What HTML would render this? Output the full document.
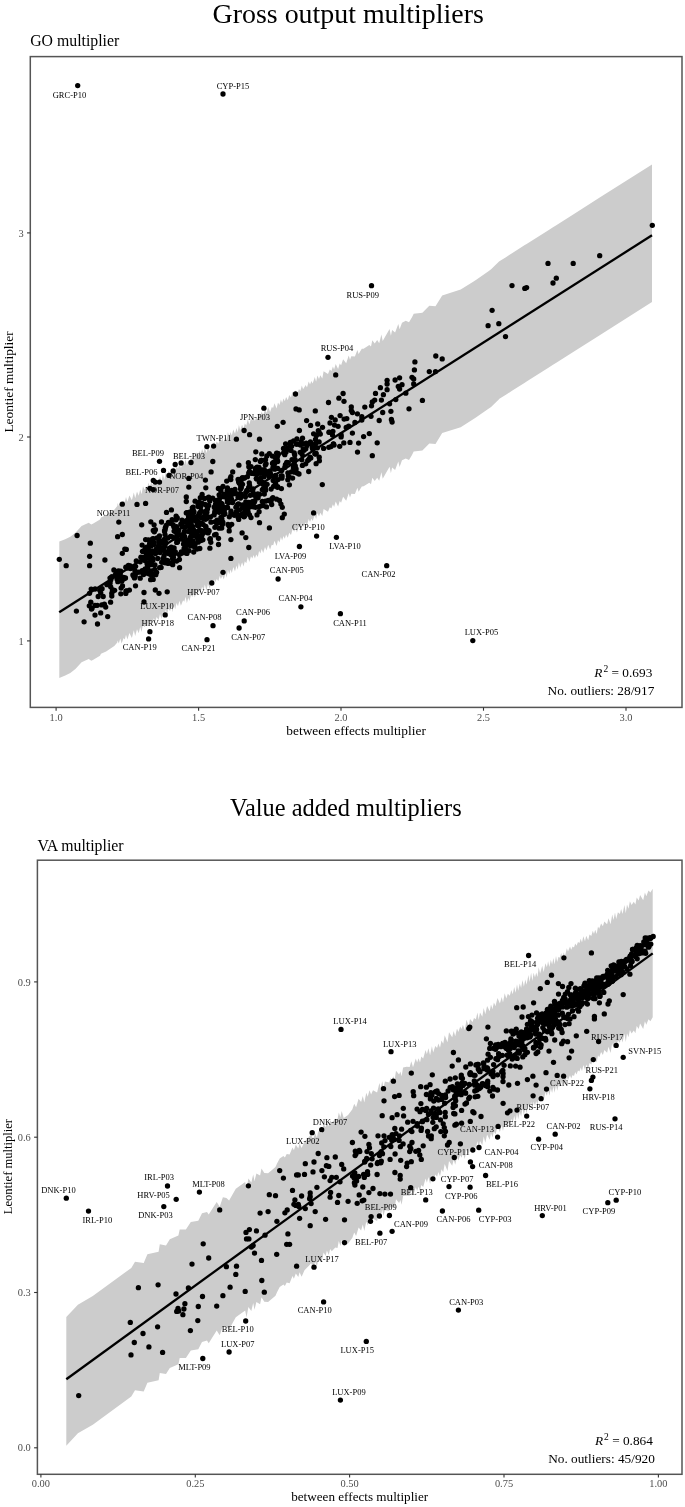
<!DOCTYPE html>
<html><head><meta charset="utf-8"><title>Multipliers</title>
<style>html,body{margin:0;padding:0;background:#fff}svg{display:block}</style></head>
<body>
<svg width="685" height="1507" viewBox="0 0 685 1507">
<rect width="685" height="1507" fill="#fff"/>
<g font-family="'Liberation Serif', 'Times New Roman', serif" fill="#000">
<text x="348.2" y="23.4" font-size="27.9" text-anchor="middle">Gross output multipliers</text>
<text x="30.2" y="46.4" font-size="15.8">GO multiplier</text>
<text x="345.9" y="816" font-size="24.4" text-anchor="middle">Value added multipliers</text>
<text x="37.4" y="850.8" font-size="15.8">VA multiplier</text>
<path d="M59.3,541.6 L65.2,539.3 L70.3,536.8 L75.4,532.7 L81.6,526 L88.7,522.7 L91.3,524.5 L93.3,523.5 L100,519.4 L101,517.4 L106.1,515.3 L114.3,509.7 L117.3,506.1 L117.6,503 L118.8,505.9 L120.3,501 L121.6,505.9 L123.6,500.4 L124.8,502 L126,497.1 L127.4,501.8 L129.4,495.4 L131.9,500.3 L133.8,492.6 L135.2,498.3 L137,491.6 L138.7,495.7 L140.2,489.4 L141.6,494.3 L143,486.2 L144.5,489.7 L146.1,486.7 L147.3,488.3 L148.6,482.4 L149.8,487.4 L151.1,481.9 L152.4,485.3 L153.8,480.6 L155.3,483.8 L156.6,479.3 L158.6,482.3 L160,476.4 L161.5,481.5 L162.9,474.2 L164.3,479.8 L165.8,471.8 L167.2,478.2 L168.4,470.7 L170.1,473.6 L171.3,468.3 L172.6,474.7 L173.8,466.5 L175.2,471.7 L176.5,465.4 L178,468.7 L179.4,463.2 L180.9,468.1 L183.1,462.7 L184.3,464.2 L185.6,459.2 L186.9,465.6 L188.2,460.1 L189.5,463.4 L190.9,457.3 L192.3,459.4 L193.7,455.9 L194.9,459.8 L196.5,452.2 L198,455.5 L199.5,451.1 L200.8,453.7 L202.1,449.1 L203.6,452.9 L204.8,446.9 L206.5,453.2 L207.9,446.2 L209.8,451.1 L211.1,444.8 L212.7,446.2 L214.1,441.9 L215.3,444.4 L216.8,441.5 L218.4,443.7 L219.7,438.3 L220.9,441.3 L222.4,438.5 L223.8,441.8 L225.4,435.7 L226.7,440.2 L227.9,432.1 L229.2,436.7 L230.5,431.9 L231.8,435.5 L233.3,429.5 L235,433.8 L236.4,427.9 L237.7,432.1 L238.9,425 L240.2,430.2 L242.1,424.7 L243.5,428.8 L244.8,423.6 L246.3,425.6 L247.8,419.2 L249.3,424.4 L251,418.6 L252.3,420.8 L253.6,417.4 L254.9,421 L256.2,417 L257.8,419.3 L259.1,413.2 L260.4,415.8 L261.7,411.5 L263.2,415.4 L265,409.3 L266.5,412.9 L268.2,407.1 L270.1,411.9 L271.7,407.2 L273.2,407.7 L274.5,403.2 L276.6,408.5 L278,402.4 L279.5,405 L280.9,399.4 L282.1,402.9 L283.5,398.5 L284.8,401.2 L286.1,396.9 L287.8,400.2 L289.2,395.1 L291,397.4 L292.6,391.4 L294.2,394.2 L295.5,390.2 L296.9,394.8 L299,388.9 L300.4,390.9 L301.8,385.5 L303.1,389.3 L305.7,385 L307,387.4 L308.7,381.4 L310,384.4 L311.4,380.9 L312.7,383.5 L314.8,377.1 L316.1,381.7 L317.4,375.4 L319,378.9 L320.3,375.2 L322.3,378.4 L323.6,371.3 L328,374.1 L329.8,369.6 L331.4,370.9 L332.9,366.6 L334.1,369.4 L335.7,363.9 L338.1,369 L339.7,363.4 L341.1,365.2 L343.1,359.2 L346.2,363.2 L348.7,355.6 L350,359.8 L351.3,356.2 L354.9,356.5 L357.4,350.1 L358.6,354.1 L361.8,348.8 L363.6,348.7 L369.3,345.1 L371,346.6 L372.3,340.2 L374.7,343.5 L377.2,340.1 L379.2,343.2 L381.4,334.6 L382.7,341.1 L386.7,334.1 L389.6,329.1 L390.9,335.7 L392.1,329.9 L395.1,332.4 L398.3,324 L399.6,329.3 L402,322.7 L405.8,320.8 L409,322.3 L412,317.3 L413.7,313.8 L422.4,312.8 L429.3,305.8 L435.5,306.3 L442.2,295.5 L460.7,289.6 L472.8,282 L475.9,280 L488.1,271.4 L491.1,269.3 L498.8,261.8 L499.4,261.2 L505.5,257.4 L512,253.2 L524.8,245.1 L526.6,244 L548,230.4 L553,227.2 L556.3,225.2 L573.2,214.4 L599.7,197.6 L652,164.5 L652,302.1 L599.7,335.2 L573.2,352 L556.3,362.8 L553,364.8 L548,368 L526.6,381.6 L524.8,382.7 L512,390.8 L505.5,395 L499.4,398.8 L498.8,399.4 L491.1,406.9 L488.1,409 L475.9,417.6 L472.8,419.6 L460.7,427.2 L442.2,433.1 L435.5,443.9 L429.3,443.4 L422.4,450.4 L413.7,451.4 L412,454.9 L409,459.9 L405.8,458.4 L402,460.3 L399.6,466.9 L398.3,461.6 L395.1,470 L392.1,467.5 L390.9,473.3 L389.6,466.7 L386.7,471.7 L382.7,478.7 L381.4,472.2 L379.2,480.8 L377.2,477.7 L374.7,481.1 L372.3,477.8 L371,484.2 L369.3,482.7 L363.6,486.3 L361.8,486.4 L358.6,491.7 L357.4,487.7 L354.9,494.1 L351.3,493.8 L350,497.4 L348.7,493.2 L346.2,500.8 L343.1,496.8 L341.1,502.8 L339.7,501 L338.1,506.6 L335.7,501.5 L334.1,507 L332.9,504.2 L331.4,508.5 L329.8,507.2 L328,511.7 L323.6,508.9 L322.3,516 L320.3,512.8 L319,516.5 L317.4,513 L316.1,519.3 L314.8,514.7 L312.7,521.1 L311.4,518.5 L310,522 L308.7,519 L307,525 L305.7,522.6 L303.1,526.9 L301.8,523.1 L300.4,528.5 L299,526.5 L296.9,532.4 L295.5,527.8 L294.2,531.8 L292.6,529 L291,535 L289.2,532.7 L287.8,537.8 L286.1,534.5 L284.8,538.8 L283.5,536.1 L282.1,540.5 L280.9,537 L279.5,542.6 L278,540 L276.6,546.1 L274.5,540.8 L273.2,545.3 L271.7,544.8 L270.1,549.5 L268.2,544.7 L266.5,550.5 L265,546.9 L263.2,553 L261.7,549.1 L260.4,553.4 L259.1,550.8 L257.8,556.9 L256.2,554.6 L254.9,558.6 L253.6,555 L252.3,558.4 L251,556.2 L249.3,562 L247.8,556.8 L246.3,563.2 L244.8,561.2 L243.5,566.4 L242.1,562.3 L240.2,567.8 L238.9,562.6 L237.7,569.7 L236.4,565.5 L235,571.4 L233.3,567.1 L231.8,573.1 L230.5,569.5 L229.2,574.3 L227.9,569.7 L226.7,577.8 L225.4,573.3 L223.8,579.4 L222.4,576.1 L220.9,578.9 L219.7,575.9 L218.4,581.3 L216.8,579.1 L215.3,582 L214.1,579.5 L212.7,583.8 L211.1,582.4 L209.8,588.7 L207.9,583.8 L206.5,590.8 L204.8,584.5 L203.6,590.5 L202.1,586.7 L200.8,591.3 L199.5,588.7 L198,593.1 L196.5,589.8 L194.9,597.4 L193.7,593.5 L192.3,597 L190.9,594.9 L189.5,601 L188.2,597.7 L186.9,603.2 L185.6,596.8 L184.3,601.8 L183.1,600.3 L180.9,605.7 L179.4,600.8 L178,606.3 L176.5,603 L175.2,609.3 L173.8,604.1 L172.6,612.3 L171.3,605.9 L170.1,611.2 L168.4,608.3 L167.2,615.8 L165.8,609.4 L164.3,617.4 L162.9,611.8 L161.5,619.1 L160,614 L158.6,619.9 L156.6,616.9 L155.3,621.4 L153.8,618.2 L152.4,622.9 L151.1,619.5 L149.8,625 L148.6,620 L147.3,625.9 L146.1,624.3 L144.5,627.3 L143,623.8 L141.6,631.9 L140.2,627 L138.7,633.3 L137,629.2 L135.2,635.9 L133.8,630.2 L131.9,637.9 L129.4,633 L127.4,639.4 L126,634.7 L124.8,639.6 L123.6,638 L121.6,643.5 L120.3,638.6 L118.8,643.5 L117.6,640.6 L117.3,642.4 L114.3,646 L106.1,651.6 L101,653.7 L100,655.7 L93.3,659.8 L91.3,660.8 L88.7,659 L81.6,662.3 L75.4,669 L70.3,673.1 L65.2,675.6 L59.3,677.9 Z" fill="#cccccc"/>
<line x1="59.2" y1="612.3" x2="652" y2="235.3" stroke="#000" stroke-width="2.3"/>
<g fill="#000">
<circle cx="95.1" cy="589" r="2.65"/>
<circle cx="99.8" cy="590.3" r="2.65"/>
<circle cx="89.3" cy="605.8" r="2.65"/>
<circle cx="89.5" cy="593.3" r="2.65"/>
<circle cx="97.3" cy="605.3" r="2.65"/>
<circle cx="101.8" cy="604.9" r="2.65"/>
<circle cx="100.7" cy="592.8" r="2.65"/>
<circle cx="106.9" cy="584.7" r="2.65"/>
<circle cx="91.2" cy="589.1" r="2.65"/>
<circle cx="92" cy="608.3" r="2.65"/>
<circle cx="102.1" cy="588.7" r="2.65"/>
<circle cx="111.8" cy="576.8" r="2.65"/>
<circle cx="130.4" cy="568.5" r="2.65"/>
<circle cx="123.6" cy="577.3" r="2.65"/>
<circle cx="133.8" cy="576.6" r="2.65"/>
<circle cx="125.8" cy="593.4" r="2.65"/>
<circle cx="131.9" cy="567.8" r="2.65"/>
<circle cx="122.5" cy="585.9" r="2.65"/>
<circle cx="114.6" cy="590.3" r="2.65"/>
<circle cx="132.9" cy="574.9" r="2.65"/>
<circle cx="136.3" cy="561" r="2.65"/>
<circle cx="127.4" cy="568.1" r="2.65"/>
<circle cx="135.2" cy="576.2" r="2.65"/>
<circle cx="111.8" cy="593.2" r="2.65"/>
<circle cx="129.4" cy="590.1" r="2.65"/>
<circle cx="121.6" cy="580.9" r="2.65"/>
<circle cx="110.7" cy="586.8" r="2.65"/>
<circle cx="111.8" cy="596.1" r="2.65"/>
<circle cx="113.9" cy="570" r="2.65"/>
<circle cx="112.4" cy="589.9" r="2.65"/>
<circle cx="126.5" cy="591" r="2.65"/>
<circle cx="118.4" cy="570.8" r="2.65"/>
<circle cx="120.8" cy="593.8" r="2.65"/>
<circle cx="115.3" cy="574.9" r="2.65"/>
<circle cx="117" cy="579" r="2.65"/>
<circle cx="110.1" cy="582.9" r="2.65"/>
<circle cx="121.1" cy="588.1" r="2.65"/>
<circle cx="125.5" cy="578" r="2.65"/>
<circle cx="130.3" cy="566" r="2.65"/>
<circle cx="136.2" cy="573" r="2.65"/>
<circle cx="121.8" cy="581.1" r="2.65"/>
<circle cx="111.9" cy="576.9" r="2.65"/>
<circle cx="116.3" cy="572" r="2.65"/>
<circle cx="110" cy="578.1" r="2.65"/>
<circle cx="113" cy="590.1" r="2.65"/>
<circle cx="128.4" cy="565.3" r="2.65"/>
<circle cx="117.6" cy="575.9" r="2.65"/>
<circle cx="135.5" cy="585.8" r="2.65"/>
<circle cx="124" cy="578.8" r="2.65"/>
<circle cx="120.3" cy="574.1" r="2.65"/>
<circle cx="134.9" cy="570.5" r="2.65"/>
<circle cx="125.8" cy="567.2" r="2.65"/>
<circle cx="126.3" cy="549.4" r="2.65"/>
<circle cx="135.9" cy="572.6" r="2.65"/>
<circle cx="117.8" cy="581.7" r="2.65"/>
<circle cx="126" cy="591.2" r="2.65"/>
<circle cx="119.9" cy="577" r="2.65"/>
<circle cx="135.6" cy="566.3" r="2.65"/>
<circle cx="134.5" cy="577.9" r="2.65"/>
<circle cx="120.7" cy="571.1" r="2.65"/>
<circle cx="110.8" cy="579.7" r="2.65"/>
<circle cx="138.7" cy="572.2" r="2.65"/>
<circle cx="186.9" cy="553.4" r="2.65"/>
<circle cx="151" cy="546.2" r="2.65"/>
<circle cx="149.8" cy="540.6" r="2.65"/>
<circle cx="182" cy="526.9" r="2.65"/>
<circle cx="172.6" cy="558.7" r="2.65"/>
<circle cx="185.5" cy="545.9" r="2.65"/>
<circle cx="177.5" cy="540.5" r="2.65"/>
<circle cx="156.6" cy="572.3" r="2.65"/>
<circle cx="188.6" cy="516.6" r="2.65"/>
<circle cx="176.2" cy="532.6" r="2.65"/>
<circle cx="146.4" cy="554.7" r="2.65"/>
<circle cx="147.3" cy="568.3" r="2.65"/>
<circle cx="189" cy="531.7" r="2.65"/>
<circle cx="146.5" cy="547.2" r="2.65"/>
<circle cx="188.5" cy="524.8" r="2.65"/>
<circle cx="161.7" cy="562.3" r="2.65"/>
<circle cx="181.3" cy="524" r="2.65"/>
<circle cx="152" cy="564.1" r="2.65"/>
<circle cx="153" cy="560" r="2.65"/>
<circle cx="157.7" cy="558.5" r="2.65"/>
<circle cx="169.2" cy="550.7" r="2.65"/>
<circle cx="165.1" cy="553.3" r="2.65"/>
<circle cx="166.2" cy="525.5" r="2.65"/>
<circle cx="140.2" cy="578.2" r="2.65"/>
<circle cx="148.6" cy="557.7" r="2.65"/>
<circle cx="156.3" cy="548.9" r="2.65"/>
<circle cx="167.8" cy="560.6" r="2.65"/>
<circle cx="152.4" cy="551.9" r="2.65"/>
<circle cx="178.6" cy="530.3" r="2.65"/>
<circle cx="185.6" cy="526.7" r="2.65"/>
<circle cx="170.6" cy="536.4" r="2.65"/>
<circle cx="162.6" cy="549.9" r="2.65"/>
<circle cx="163.9" cy="562.1" r="2.65"/>
<circle cx="187.1" cy="512.7" r="2.65"/>
<circle cx="168" cy="563.3" r="2.65"/>
<circle cx="146.1" cy="557.2" r="2.65"/>
<circle cx="143.6" cy="559.4" r="2.65"/>
<circle cx="179.2" cy="554.6" r="2.65"/>
<circle cx="147.7" cy="567.1" r="2.65"/>
<circle cx="184.1" cy="548.5" r="2.65"/>
<circle cx="151" cy="570.9" r="2.65"/>
<circle cx="189.5" cy="544.5" r="2.65"/>
<circle cx="148.1" cy="553.3" r="2.65"/>
<circle cx="149.8" cy="551.4" r="2.65"/>
<circle cx="176.1" cy="516.1" r="2.65"/>
<circle cx="140.9" cy="557.2" r="2.65"/>
<circle cx="171.2" cy="555.1" r="2.65"/>
<circle cx="179.4" cy="559.5" r="2.65"/>
<circle cx="145.2" cy="560.7" r="2.65"/>
<circle cx="153.5" cy="543.8" r="2.65"/>
<circle cx="161.1" cy="567.4" r="2.65"/>
<circle cx="147.5" cy="573.2" r="2.65"/>
<circle cx="168.5" cy="553.6" r="2.65"/>
<circle cx="174.4" cy="538.2" r="2.65"/>
<circle cx="143.6" cy="574.5" r="2.65"/>
<circle cx="144.2" cy="570.3" r="2.65"/>
<circle cx="143.3" cy="573.3" r="2.65"/>
<circle cx="167.7" cy="562.8" r="2.65"/>
<circle cx="153.4" cy="538.7" r="2.65"/>
<circle cx="145.5" cy="548.5" r="2.65"/>
<circle cx="142.5" cy="551.3" r="2.65"/>
<circle cx="178" cy="533.1" r="2.65"/>
<circle cx="165" cy="534.6" r="2.65"/>
<circle cx="152.5" cy="539" r="2.65"/>
<circle cx="176.7" cy="542.4" r="2.65"/>
<circle cx="186.7" cy="520.6" r="2.65"/>
<circle cx="180.9" cy="524.1" r="2.65"/>
<circle cx="159.7" cy="552" r="2.65"/>
<circle cx="174.4" cy="553.9" r="2.65"/>
<circle cx="175.3" cy="551.8" r="2.65"/>
<circle cx="160.2" cy="547.5" r="2.65"/>
<circle cx="143.5" cy="573.3" r="2.65"/>
<circle cx="152.8" cy="551.2" r="2.65"/>
<circle cx="183.5" cy="544.1" r="2.65"/>
<circle cx="154.1" cy="544.4" r="2.65"/>
<circle cx="147.9" cy="562.9" r="2.65"/>
<circle cx="153.2" cy="579.4" r="2.65"/>
<circle cx="152.2" cy="573.6" r="2.65"/>
<circle cx="155.5" cy="553.5" r="2.65"/>
<circle cx="163.7" cy="548.5" r="2.65"/>
<circle cx="150" cy="562.2" r="2.65"/>
<circle cx="144.5" cy="558.9" r="2.65"/>
<circle cx="142.1" cy="545.1" r="2.65"/>
<circle cx="169.3" cy="548.3" r="2.65"/>
<circle cx="177.5" cy="541.9" r="2.65"/>
<circle cx="159.5" cy="535.9" r="2.65"/>
<circle cx="189.2" cy="514.6" r="2.65"/>
<circle cx="142.2" cy="570.7" r="2.65"/>
<circle cx="184.6" cy="536.5" r="2.65"/>
<circle cx="147" cy="553.5" r="2.65"/>
<circle cx="165.2" cy="562.8" r="2.65"/>
<circle cx="169.2" cy="551.2" r="2.65"/>
<circle cx="174.1" cy="547.9" r="2.65"/>
<circle cx="146.7" cy="556.8" r="2.65"/>
<circle cx="145.2" cy="568.9" r="2.65"/>
<circle cx="171.3" cy="547.2" r="2.65"/>
<circle cx="164.5" cy="531.1" r="2.65"/>
<circle cx="165.1" cy="541.5" r="2.65"/>
<circle cx="173" cy="524.6" r="2.65"/>
<circle cx="143.7" cy="550.8" r="2.65"/>
<circle cx="176.5" cy="526.7" r="2.65"/>
<circle cx="164.7" cy="530.9" r="2.65"/>
<circle cx="164" cy="555.8" r="2.65"/>
<circle cx="172.1" cy="519.7" r="2.65"/>
<circle cx="147.4" cy="551" r="2.65"/>
<circle cx="168.4" cy="522.5" r="2.65"/>
<circle cx="143" cy="551.6" r="2.65"/>
<circle cx="173.8" cy="526.7" r="2.65"/>
<circle cx="165.8" cy="543.2" r="2.65"/>
<circle cx="184.7" cy="521.5" r="2.65"/>
<circle cx="188.9" cy="550.7" r="2.65"/>
<circle cx="181" cy="553.5" r="2.65"/>
<circle cx="162.5" cy="543.2" r="2.65"/>
<circle cx="150.5" cy="571.8" r="2.65"/>
<circle cx="147.1" cy="563.9" r="2.65"/>
<circle cx="181" cy="534.8" r="2.65"/>
<circle cx="184.3" cy="541.5" r="2.65"/>
<circle cx="164.3" cy="539.4" r="2.65"/>
<circle cx="140.2" cy="561.8" r="2.65"/>
<circle cx="147" cy="556" r="2.65"/>
<circle cx="155.8" cy="574.7" r="2.65"/>
<circle cx="182" cy="520.1" r="2.65"/>
<circle cx="186.3" cy="542.3" r="2.65"/>
<circle cx="158.6" cy="546" r="2.65"/>
<circle cx="189.9" cy="528.7" r="2.65"/>
<circle cx="153.8" cy="542.3" r="2.65"/>
<circle cx="145.1" cy="572.5" r="2.65"/>
<circle cx="152.5" cy="558.1" r="2.65"/>
<circle cx="165.5" cy="527.3" r="2.65"/>
<circle cx="184.2" cy="552.7" r="2.65"/>
<circle cx="171.5" cy="563.4" r="2.65"/>
<circle cx="176" cy="519.8" r="2.65"/>
<circle cx="176.6" cy="536.8" r="2.65"/>
<circle cx="154.3" cy="531.8" r="2.65"/>
<circle cx="186.3" cy="512.9" r="2.65"/>
<circle cx="154.9" cy="564.8" r="2.65"/>
<circle cx="188.8" cy="518" r="2.65"/>
<circle cx="167.9" cy="538" r="2.65"/>
<circle cx="148.4" cy="549.5" r="2.65"/>
<circle cx="164.9" cy="546.3" r="2.65"/>
<circle cx="185.3" cy="548.4" r="2.65"/>
<circle cx="149.6" cy="544" r="2.65"/>
<circle cx="157.1" cy="538" r="2.65"/>
<circle cx="168.5" cy="562.9" r="2.65"/>
<circle cx="177.5" cy="529.9" r="2.65"/>
<circle cx="158.8" cy="548.7" r="2.65"/>
<circle cx="143.1" cy="557.5" r="2.65"/>
<circle cx="165.2" cy="551.7" r="2.65"/>
<circle cx="183.1" cy="522.3" r="2.65"/>
<circle cx="160" cy="552.5" r="2.65"/>
<circle cx="187.7" cy="544" r="2.65"/>
<circle cx="141.6" cy="572" r="2.65"/>
<circle cx="184.8" cy="531.2" r="2.65"/>
<circle cx="159.6" cy="567.7" r="2.65"/>
<circle cx="181.3" cy="551.9" r="2.65"/>
<circle cx="145.5" cy="548.2" r="2.65"/>
<circle cx="166.1" cy="560.2" r="2.65"/>
<circle cx="172.4" cy="549.3" r="2.65"/>
<circle cx="162.9" cy="558.6" r="2.65"/>
<circle cx="151.6" cy="575.2" r="2.65"/>
<circle cx="172.3" cy="536.8" r="2.65"/>
<circle cx="171.8" cy="552.2" r="2.65"/>
<circle cx="145.6" cy="539.6" r="2.65"/>
<circle cx="159.4" cy="540.2" r="2.65"/>
<circle cx="170.1" cy="523.3" r="2.65"/>
<circle cx="187.9" cy="540.2" r="2.65"/>
<circle cx="184.2" cy="532.2" r="2.65"/>
<circle cx="188" cy="541" r="2.65"/>
<circle cx="155.4" cy="529.7" r="2.65"/>
<circle cx="161" cy="541.3" r="2.65"/>
<circle cx="173.4" cy="557.3" r="2.65"/>
<circle cx="156.9" cy="551.6" r="2.65"/>
<circle cx="174.1" cy="531.1" r="2.65"/>
<circle cx="165.2" cy="528.9" r="2.65"/>
<circle cx="188.5" cy="523.7" r="2.65"/>
<circle cx="151.1" cy="564.7" r="2.65"/>
<circle cx="154.7" cy="569.3" r="2.65"/>
<circle cx="151.2" cy="554.6" r="2.65"/>
<circle cx="173.3" cy="560.9" r="2.65"/>
<circle cx="150.6" cy="579.7" r="2.65"/>
<circle cx="147.1" cy="547.8" r="2.65"/>
<circle cx="184.9" cy="548.5" r="2.65"/>
<circle cx="176.6" cy="561.1" r="2.65"/>
<circle cx="149.3" cy="574" r="2.65"/>
<circle cx="177.3" cy="518" r="2.65"/>
<circle cx="158.7" cy="542" r="2.65"/>
<circle cx="148.5" cy="540" r="2.65"/>
<circle cx="187.8" cy="519.9" r="2.65"/>
<circle cx="188.2" cy="513.4" r="2.65"/>
<circle cx="181.1" cy="539.1" r="2.65"/>
<circle cx="193.9" cy="516.3" r="2.65"/>
<circle cx="205.4" cy="519.3" r="2.65"/>
<circle cx="261.8" cy="453.9" r="2.65"/>
<circle cx="251.3" cy="473.3" r="2.65"/>
<circle cx="192.8" cy="509.5" r="2.65"/>
<circle cx="249.8" cy="507" r="2.65"/>
<circle cx="217.1" cy="506.6" r="2.65"/>
<circle cx="211" cy="522.2" r="2.65"/>
<circle cx="215.3" cy="509.5" r="2.65"/>
<circle cx="263.3" cy="488.7" r="2.65"/>
<circle cx="265.5" cy="459.7" r="2.65"/>
<circle cx="266.5" cy="506.9" r="2.65"/>
<circle cx="220.9" cy="491.3" r="2.65"/>
<circle cx="264.2" cy="469.6" r="2.65"/>
<circle cx="254.2" cy="502.6" r="2.65"/>
<circle cx="238.6" cy="481.7" r="2.65"/>
<circle cx="215.6" cy="505.4" r="2.65"/>
<circle cx="205.8" cy="526.9" r="2.65"/>
<circle cx="209.8" cy="501" r="2.65"/>
<circle cx="216.1" cy="534.4" r="2.65"/>
<circle cx="260.7" cy="506.1" r="2.65"/>
<circle cx="197.7" cy="524.5" r="2.65"/>
<circle cx="246.8" cy="490.4" r="2.65"/>
<circle cx="239.6" cy="509.9" r="2.65"/>
<circle cx="249.8" cy="505.1" r="2.65"/>
<circle cx="257.3" cy="474.3" r="2.65"/>
<circle cx="235.4" cy="493.2" r="2.65"/>
<circle cx="209.8" cy="499.8" r="2.65"/>
<circle cx="202.3" cy="533.1" r="2.65"/>
<circle cx="221.7" cy="528.1" r="2.65"/>
<circle cx="230.6" cy="492.4" r="2.65"/>
<circle cx="269.3" cy="453.6" r="2.65"/>
<circle cx="228" cy="524.4" r="2.65"/>
<circle cx="193.2" cy="507.1" r="2.65"/>
<circle cx="199.5" cy="513.3" r="2.65"/>
<circle cx="264.4" cy="474.6" r="2.65"/>
<circle cx="259.3" cy="481.9" r="2.65"/>
<circle cx="265.7" cy="471.4" r="2.65"/>
<circle cx="237.7" cy="504.3" r="2.65"/>
<circle cx="201.3" cy="511" r="2.65"/>
<circle cx="210.4" cy="517.1" r="2.65"/>
<circle cx="190.9" cy="517" r="2.65"/>
<circle cx="244.3" cy="478.1" r="2.65"/>
<circle cx="253.6" cy="493.5" r="2.65"/>
<circle cx="195.1" cy="501.2" r="2.65"/>
<circle cx="241.1" cy="480.8" r="2.65"/>
<circle cx="203.1" cy="524.4" r="2.65"/>
<circle cx="214.6" cy="534.9" r="2.65"/>
<circle cx="215" cy="511.5" r="2.65"/>
<circle cx="259.1" cy="511.7" r="2.65"/>
<circle cx="219.1" cy="494.8" r="2.65"/>
<circle cx="190.5" cy="543.1" r="2.65"/>
<circle cx="223.9" cy="512.4" r="2.65"/>
<circle cx="226.9" cy="494.7" r="2.65"/>
<circle cx="191.2" cy="522.9" r="2.65"/>
<circle cx="197.1" cy="520.1" r="2.65"/>
<circle cx="219.7" cy="511.5" r="2.65"/>
<circle cx="231.7" cy="524.3" r="2.65"/>
<circle cx="198.7" cy="525.7" r="2.65"/>
<circle cx="205.8" cy="487.8" r="2.65"/>
<circle cx="265.4" cy="501.2" r="2.65"/>
<circle cx="264.1" cy="476.8" r="2.65"/>
<circle cx="262.3" cy="489.8" r="2.65"/>
<circle cx="252.9" cy="473.2" r="2.65"/>
<circle cx="222.4" cy="524.6" r="2.65"/>
<circle cx="207.5" cy="508.8" r="2.65"/>
<circle cx="231.4" cy="499" r="2.65"/>
<circle cx="248" cy="512.5" r="2.65"/>
<circle cx="193.3" cy="528.8" r="2.65"/>
<circle cx="257.1" cy="467.1" r="2.65"/>
<circle cx="238" cy="497" r="2.65"/>
<circle cx="223.6" cy="507.2" r="2.65"/>
<circle cx="224.1" cy="508.4" r="2.65"/>
<circle cx="191.9" cy="534.2" r="2.65"/>
<circle cx="229.2" cy="491.6" r="2.65"/>
<circle cx="226.7" cy="481.1" r="2.65"/>
<circle cx="227.9" cy="489.4" r="2.65"/>
<circle cx="197.3" cy="523.9" r="2.65"/>
<circle cx="230.8" cy="479.6" r="2.65"/>
<circle cx="248.7" cy="502.4" r="2.65"/>
<circle cx="230.9" cy="476.6" r="2.65"/>
<circle cx="266.1" cy="463.8" r="2.65"/>
<circle cx="258.6" cy="507" r="2.65"/>
<circle cx="205.5" cy="530.4" r="2.65"/>
<circle cx="229.3" cy="526.5" r="2.65"/>
<circle cx="253.1" cy="506.8" r="2.65"/>
<circle cx="195.2" cy="517.6" r="2.65"/>
<circle cx="261.7" cy="470" r="2.65"/>
<circle cx="255.3" cy="459.6" r="2.65"/>
<circle cx="206.7" cy="505.6" r="2.65"/>
<circle cx="230.5" cy="497" r="2.65"/>
<circle cx="202.9" cy="539.8" r="2.65"/>
<circle cx="244.4" cy="516.3" r="2.65"/>
<circle cx="199.2" cy="530.4" r="2.65"/>
<circle cx="240.9" cy="493.9" r="2.65"/>
<circle cx="236.4" cy="511.7" r="2.65"/>
<circle cx="198.4" cy="541.2" r="2.65"/>
<circle cx="253.8" cy="473.6" r="2.65"/>
<circle cx="269.2" cy="476.8" r="2.65"/>
<circle cx="225.4" cy="497" r="2.65"/>
<circle cx="249.5" cy="471.5" r="2.65"/>
<circle cx="241.1" cy="514.6" r="2.65"/>
<circle cx="236.9" cy="505.8" r="2.65"/>
<circle cx="192.7" cy="510.5" r="2.65"/>
<circle cx="239.3" cy="483.2" r="2.65"/>
<circle cx="200.6" cy="507" r="2.65"/>
<circle cx="242.2" cy="477.8" r="2.65"/>
<circle cx="198.5" cy="515.4" r="2.65"/>
<circle cx="207.9" cy="516.9" r="2.65"/>
<circle cx="239.9" cy="493.6" r="2.65"/>
<circle cx="200.8" cy="540.5" r="2.65"/>
<circle cx="197.7" cy="531.7" r="2.65"/>
<circle cx="259.7" cy="494.3" r="2.65"/>
<circle cx="190.9" cy="536.6" r="2.65"/>
<circle cx="235" cy="489.3" r="2.65"/>
<circle cx="265" cy="487.7" r="2.65"/>
<circle cx="209.9" cy="539.2" r="2.65"/>
<circle cx="222.5" cy="496.7" r="2.65"/>
<circle cx="194.7" cy="543.9" r="2.65"/>
<circle cx="265.3" cy="465.1" r="2.65"/>
<circle cx="206" cy="514.9" r="2.65"/>
<circle cx="255.1" cy="472" r="2.65"/>
<circle cx="214.8" cy="512.6" r="2.65"/>
<circle cx="252.6" cy="501.8" r="2.65"/>
<circle cx="190.5" cy="543.6" r="2.65"/>
<circle cx="249.3" cy="483" r="2.65"/>
<circle cx="208.1" cy="497.8" r="2.65"/>
<circle cx="216.8" cy="523.4" r="2.65"/>
<circle cx="245.6" cy="508" r="2.65"/>
<circle cx="234.3" cy="493.2" r="2.65"/>
<circle cx="253.1" cy="488.9" r="2.65"/>
<circle cx="267.2" cy="474" r="2.65"/>
<circle cx="260.4" cy="461.5" r="2.65"/>
<circle cx="249.5" cy="514.8" r="2.65"/>
<circle cx="249.7" cy="485.9" r="2.65"/>
<circle cx="209.1" cy="530.9" r="2.65"/>
<circle cx="240.5" cy="498" r="2.65"/>
<circle cx="227.6" cy="507.7" r="2.65"/>
<circle cx="245.8" cy="502" r="2.65"/>
<circle cx="235.6" cy="493.4" r="2.65"/>
<circle cx="207" cy="531.9" r="2.65"/>
<circle cx="201.6" cy="503.2" r="2.65"/>
<circle cx="198.5" cy="540" r="2.65"/>
<circle cx="192.3" cy="507.8" r="2.65"/>
<circle cx="245.4" cy="496.7" r="2.65"/>
<circle cx="195.3" cy="520.8" r="2.65"/>
<circle cx="219.1" cy="528.2" r="2.65"/>
<circle cx="195.3" cy="531.7" r="2.65"/>
<circle cx="263.2" cy="505.5" r="2.65"/>
<circle cx="199" cy="502.2" r="2.65"/>
<circle cx="257.8" cy="493.8" r="2.65"/>
<circle cx="240.5" cy="479.4" r="2.65"/>
<circle cx="198" cy="503.9" r="2.65"/>
<circle cx="215.5" cy="504.4" r="2.65"/>
<circle cx="191.7" cy="514.3" r="2.65"/>
<circle cx="219.4" cy="508.5" r="2.65"/>
<circle cx="267.1" cy="484.3" r="2.65"/>
<circle cx="192.5" cy="516.9" r="2.65"/>
<circle cx="224.9" cy="513.7" r="2.65"/>
<circle cx="233" cy="494.1" r="2.65"/>
<circle cx="259" cy="467.4" r="2.65"/>
<circle cx="190.1" cy="511.8" r="2.65"/>
<circle cx="251" cy="517.6" r="2.65"/>
<circle cx="229.3" cy="516.8" r="2.65"/>
<circle cx="204.8" cy="512.2" r="2.65"/>
<circle cx="210.8" cy="542.3" r="2.65"/>
<circle cx="212.7" cy="498.1" r="2.65"/>
<circle cx="198.8" cy="522.4" r="2.65"/>
<circle cx="196.5" cy="533.8" r="2.65"/>
<circle cx="240.2" cy="481.4" r="2.65"/>
<circle cx="222.1" cy="504.1" r="2.65"/>
<circle cx="261.1" cy="460.5" r="2.65"/>
<circle cx="206.5" cy="510.7" r="2.65"/>
<circle cx="220.3" cy="522.6" r="2.65"/>
<circle cx="208.7" cy="505.5" r="2.65"/>
<circle cx="250.2" cy="495.3" r="2.65"/>
<circle cx="217.9" cy="507.3" r="2.65"/>
<circle cx="243" cy="513.8" r="2.65"/>
<circle cx="203.6" cy="516.7" r="2.65"/>
<circle cx="200.1" cy="512.4" r="2.65"/>
<circle cx="260.8" cy="473.3" r="2.65"/>
<circle cx="246.3" cy="512.4" r="2.65"/>
<circle cx="202.4" cy="503.6" r="2.65"/>
<circle cx="231.8" cy="490.3" r="2.65"/>
<circle cx="216.2" cy="504.6" r="2.65"/>
<circle cx="198.1" cy="542.2" r="2.65"/>
<circle cx="198.1" cy="525.7" r="2.65"/>
<circle cx="248.7" cy="487.3" r="2.65"/>
<circle cx="205.7" cy="526.3" r="2.65"/>
<circle cx="221.1" cy="488.6" r="2.65"/>
<circle cx="221.9" cy="518.8" r="2.65"/>
<circle cx="240.6" cy="488.9" r="2.65"/>
<circle cx="201.3" cy="517.9" r="2.65"/>
<circle cx="262.6" cy="484.1" r="2.65"/>
<circle cx="235.9" cy="507.2" r="2.65"/>
<circle cx="247.8" cy="510.9" r="2.65"/>
<circle cx="251.9" cy="502.9" r="2.65"/>
<circle cx="241.3" cy="487.5" r="2.65"/>
<circle cx="215" cy="521.8" r="2.65"/>
<circle cx="252.6" cy="501.6" r="2.65"/>
<circle cx="240.4" cy="479.8" r="2.65"/>
<circle cx="239.7" cy="495" r="2.65"/>
<circle cx="244" cy="516.8" r="2.65"/>
<circle cx="252.3" cy="490.5" r="2.65"/>
<circle cx="229.2" cy="530.9" r="2.65"/>
<circle cx="202.9" cy="533.5" r="2.65"/>
<circle cx="265.2" cy="487.3" r="2.65"/>
<circle cx="233.3" cy="514.4" r="2.65"/>
<circle cx="231" cy="511.2" r="2.65"/>
<circle cx="222.8" cy="522.2" r="2.65"/>
<circle cx="206.8" cy="518.5" r="2.65"/>
<circle cx="199.8" cy="548.5" r="2.65"/>
<circle cx="218.4" cy="488.4" r="2.65"/>
<circle cx="191.1" cy="528.8" r="2.65"/>
<circle cx="223.6" cy="513.2" r="2.65"/>
<circle cx="208" cy="530.2" r="2.65"/>
<circle cx="265.2" cy="484.1" r="2.65"/>
<circle cx="221.4" cy="503.4" r="2.65"/>
<circle cx="200.3" cy="535.9" r="2.65"/>
<circle cx="227.5" cy="500.3" r="2.65"/>
<circle cx="208.1" cy="532.9" r="2.65"/>
<circle cx="255.5" cy="507.3" r="2.65"/>
<circle cx="227.4" cy="492.2" r="2.65"/>
<circle cx="256.7" cy="478.9" r="2.65"/>
<circle cx="258.1" cy="472.1" r="2.65"/>
<circle cx="224.1" cy="494.4" r="2.65"/>
<circle cx="190.2" cy="537.7" r="2.65"/>
<circle cx="214.1" cy="514.9" r="2.65"/>
<circle cx="224.3" cy="509.8" r="2.65"/>
<circle cx="264.3" cy="494" r="2.65"/>
<circle cx="194.6" cy="547.2" r="2.65"/>
<circle cx="201.2" cy="530.4" r="2.65"/>
<circle cx="240.7" cy="486" r="2.65"/>
<circle cx="242.5" cy="484.3" r="2.65"/>
<circle cx="198.1" cy="506.6" r="2.65"/>
<circle cx="217.7" cy="502.6" r="2.65"/>
<circle cx="262.3" cy="501.5" r="2.65"/>
<circle cx="238.7" cy="519.4" r="2.65"/>
<circle cx="243.5" cy="514.7" r="2.65"/>
<circle cx="205.8" cy="516.8" r="2.65"/>
<circle cx="232.5" cy="502.6" r="2.65"/>
<circle cx="234.4" cy="492.9" r="2.65"/>
<circle cx="208.7" cy="497.1" r="2.65"/>
<circle cx="227.4" cy="487.8" r="2.65"/>
<circle cx="229.3" cy="493.2" r="2.65"/>
<circle cx="190.5" cy="541.2" r="2.65"/>
<circle cx="227.4" cy="502.1" r="2.65"/>
<circle cx="220" cy="496.6" r="2.65"/>
<circle cx="266.8" cy="456" r="2.65"/>
<circle cx="192.3" cy="526.3" r="2.65"/>
<circle cx="244.6" cy="506.7" r="2.65"/>
<circle cx="230.9" cy="513.7" r="2.65"/>
<circle cx="261.8" cy="460.4" r="2.65"/>
<circle cx="217.1" cy="520.1" r="2.65"/>
<circle cx="219.3" cy="499.4" r="2.65"/>
<circle cx="206.9" cy="512.2" r="2.65"/>
<circle cx="223.8" cy="510.7" r="2.65"/>
<circle cx="256.2" cy="478.5" r="2.65"/>
<circle cx="230.3" cy="478.3" r="2.65"/>
<circle cx="242.4" cy="507.9" r="2.65"/>
<circle cx="216.5" cy="500.3" r="2.65"/>
<circle cx="240.8" cy="515.4" r="2.65"/>
<circle cx="193.2" cy="540.9" r="2.65"/>
<circle cx="194" cy="512" r="2.65"/>
<circle cx="190.5" cy="519.8" r="2.65"/>
<circle cx="242.6" cy="504.9" r="2.65"/>
<circle cx="262.8" cy="482.5" r="2.65"/>
<circle cx="245.7" cy="492.7" r="2.65"/>
<circle cx="244.5" cy="477.8" r="2.65"/>
<circle cx="251" cy="466.6" r="2.65"/>
<circle cx="204.5" cy="498.4" r="2.65"/>
<circle cx="242.5" cy="478" r="2.65"/>
<circle cx="255.8" cy="496.5" r="2.65"/>
<circle cx="214.2" cy="507.1" r="2.65"/>
<circle cx="215.5" cy="500.8" r="2.65"/>
<circle cx="194.4" cy="519.1" r="2.65"/>
<circle cx="193.2" cy="510.9" r="2.65"/>
<circle cx="263.5" cy="473.6" r="2.65"/>
<circle cx="191.1" cy="512.4" r="2.65"/>
<circle cx="268.5" cy="471.6" r="2.65"/>
<circle cx="223" cy="486.4" r="2.65"/>
<circle cx="202.1" cy="494.4" r="2.65"/>
<circle cx="190.4" cy="545.9" r="2.65"/>
<circle cx="197.1" cy="549" r="2.65"/>
<circle cx="200.3" cy="497.7" r="2.65"/>
<circle cx="248.7" cy="473.1" r="2.65"/>
<circle cx="194" cy="535.7" r="2.65"/>
<circle cx="248.4" cy="462.7" r="2.65"/>
<circle cx="240.3" cy="494.7" r="2.65"/>
<circle cx="210.3" cy="538.7" r="2.65"/>
<circle cx="247.4" cy="476.7" r="2.65"/>
<circle cx="255.4" cy="468.4" r="2.65"/>
<circle cx="214.9" cy="527.3" r="2.65"/>
<circle cx="228.9" cy="491.5" r="2.65"/>
<circle cx="219.4" cy="505.4" r="2.65"/>
<circle cx="201.6" cy="536.3" r="2.65"/>
<circle cx="219.1" cy="512.3" r="2.65"/>
<circle cx="220.9" cy="517.5" r="2.65"/>
<circle cx="265.6" cy="490.2" r="2.65"/>
<circle cx="194.9" cy="544.8" r="2.65"/>
<circle cx="246.3" cy="504.3" r="2.65"/>
<circle cx="268.2" cy="500.5" r="2.65"/>
<circle cx="238.1" cy="479.4" r="2.65"/>
<circle cx="220.1" cy="521.6" r="2.65"/>
<circle cx="238.1" cy="517.2" r="2.65"/>
<circle cx="190.1" cy="513.5" r="2.65"/>
<circle cx="223.8" cy="514.5" r="2.65"/>
<circle cx="193.4" cy="531.5" r="2.65"/>
<circle cx="254.9" cy="500.7" r="2.65"/>
<circle cx="258.1" cy="497.8" r="2.65"/>
<circle cx="244.8" cy="511.4" r="2.65"/>
<circle cx="234.3" cy="515.3" r="2.65"/>
<circle cx="206" cy="531.9" r="2.65"/>
<circle cx="238.6" cy="504" r="2.65"/>
<circle cx="227.2" cy="490.5" r="2.65"/>
<circle cx="253.3" cy="494.8" r="2.65"/>
<circle cx="197" cy="537.6" r="2.65"/>
<circle cx="236.4" cy="513.3" r="2.65"/>
<circle cx="260.8" cy="478.2" r="2.65"/>
<circle cx="205.1" cy="504.5" r="2.65"/>
<circle cx="275.4" cy="475.6" r="2.65"/>
<circle cx="282.1" cy="476" r="2.65"/>
<circle cx="274.5" cy="464.1" r="2.65"/>
<circle cx="273.2" cy="480.6" r="2.65"/>
<circle cx="293.6" cy="440.9" r="2.65"/>
<circle cx="285.6" cy="443.8" r="2.65"/>
<circle cx="271" cy="501.4" r="2.65"/>
<circle cx="287" cy="449.5" r="2.65"/>
<circle cx="293.4" cy="467.9" r="2.65"/>
<circle cx="294.6" cy="472.2" r="2.65"/>
<circle cx="277.6" cy="455.9" r="2.65"/>
<circle cx="272.5" cy="463.4" r="2.65"/>
<circle cx="286.7" cy="462.5" r="2.65"/>
<circle cx="297.3" cy="444.2" r="2.65"/>
<circle cx="287.9" cy="472.8" r="2.65"/>
<circle cx="277.7" cy="486.6" r="2.65"/>
<circle cx="289.2" cy="476.8" r="2.65"/>
<circle cx="283.5" cy="448.4" r="2.65"/>
<circle cx="299" cy="474" r="2.65"/>
<circle cx="277.7" cy="468.4" r="2.65"/>
<circle cx="297.1" cy="473" r="2.65"/>
<circle cx="293.6" cy="465.4" r="2.65"/>
<circle cx="289.4" cy="484.8" r="2.65"/>
<circle cx="292.6" cy="478.1" r="2.65"/>
<circle cx="290.3" cy="444.4" r="2.65"/>
<circle cx="273.2" cy="462.6" r="2.65"/>
<circle cx="277.7" cy="453.5" r="2.65"/>
<circle cx="277.2" cy="459.4" r="2.65"/>
<circle cx="290.3" cy="442.4" r="2.65"/>
<circle cx="271.1" cy="489.1" r="2.65"/>
<circle cx="276.6" cy="499.2" r="2.65"/>
<circle cx="274.2" cy="462" r="2.65"/>
<circle cx="272.9" cy="497.6" r="2.65"/>
<circle cx="283.6" cy="453" r="2.65"/>
<circle cx="294.7" cy="454.9" r="2.65"/>
<circle cx="276.6" cy="453.2" r="2.65"/>
<circle cx="291.4" cy="471.8" r="2.65"/>
<circle cx="278" cy="479.6" r="2.65"/>
<circle cx="274.7" cy="469.2" r="2.65"/>
<circle cx="275" cy="468.5" r="2.65"/>
<circle cx="279.5" cy="500.5" r="2.65"/>
<circle cx="271.7" cy="504.6" r="2.65"/>
<circle cx="290" cy="445.5" r="2.65"/>
<circle cx="277.7" cy="461.5" r="2.65"/>
<circle cx="280.9" cy="504.1" r="2.65"/>
<circle cx="272.9" cy="467.7" r="2.65"/>
<circle cx="296.9" cy="439" r="2.65"/>
<circle cx="299.4" cy="430.5" r="2.65"/>
<circle cx="294.2" cy="453" r="2.65"/>
<circle cx="295" cy="459.5" r="2.65"/>
<circle cx="275.6" cy="475.5" r="2.65"/>
<circle cx="287.1" cy="448.1" r="2.65"/>
<circle cx="275.4" cy="483.1" r="2.65"/>
<circle cx="272.4" cy="456.1" r="2.65"/>
<circle cx="288.3" cy="462.7" r="2.65"/>
<circle cx="288.4" cy="476.1" r="2.65"/>
<circle cx="294.3" cy="462.6" r="2.65"/>
<circle cx="292" cy="459.6" r="2.65"/>
<circle cx="291.6" cy="446.3" r="2.65"/>
<circle cx="295.3" cy="465.9" r="2.65"/>
<circle cx="284.8" cy="454.7" r="2.65"/>
<circle cx="296.2" cy="444.1" r="2.65"/>
<circle cx="275.6" cy="483.5" r="2.65"/>
<circle cx="281.1" cy="476" r="2.65"/>
<circle cx="270.1" cy="470.9" r="2.65"/>
<circle cx="273.6" cy="486.3" r="2.65"/>
<circle cx="294.5" cy="467.7" r="2.65"/>
<circle cx="281.4" cy="488.6" r="2.65"/>
<circle cx="271.8" cy="498.8" r="2.65"/>
<circle cx="285.4" cy="464.7" r="2.65"/>
<circle cx="286.1" cy="452" r="2.65"/>
<circle cx="275.5" cy="457.7" r="2.65"/>
<circle cx="277.5" cy="487.3" r="2.65"/>
<circle cx="291" cy="450.4" r="2.65"/>
<circle cx="270.5" cy="474" r="2.65"/>
<circle cx="291.1" cy="442.3" r="2.65"/>
<circle cx="296.1" cy="469" r="2.65"/>
<circle cx="284.8" cy="467.4" r="2.65"/>
<circle cx="278.4" cy="454" r="2.65"/>
<circle cx="287.8" cy="479.8" r="2.65"/>
<circle cx="274.4" cy="477.4" r="2.65"/>
<circle cx="294.8" cy="470.8" r="2.65"/>
<circle cx="281.7" cy="470.4" r="2.65"/>
<circle cx="281.9" cy="478.2" r="2.65"/>
<circle cx="315.5" cy="439.5" r="2.65"/>
<circle cx="308.7" cy="471.5" r="2.65"/>
<circle cx="316.1" cy="463.7" r="2.65"/>
<circle cx="301.1" cy="441.6" r="2.65"/>
<circle cx="319.2" cy="457.2" r="2.65"/>
<circle cx="312.7" cy="449.1" r="2.65"/>
<circle cx="310.6" cy="425.4" r="2.65"/>
<circle cx="300.4" cy="445" r="2.65"/>
<circle cx="319.4" cy="460.8" r="2.65"/>
<circle cx="316.2" cy="453.4" r="2.65"/>
<circle cx="317.7" cy="424" r="2.65"/>
<circle cx="313.6" cy="433.8" r="2.65"/>
<circle cx="310.8" cy="458.1" r="2.65"/>
<circle cx="310.4" cy="441.8" r="2.65"/>
<circle cx="319" cy="431.8" r="2.65"/>
<circle cx="302.4" cy="465.4" r="2.65"/>
<circle cx="319.1" cy="441.9" r="2.65"/>
<circle cx="310.7" cy="443.4" r="2.65"/>
<circle cx="302.5" cy="438.2" r="2.65"/>
<circle cx="305.8" cy="448.8" r="2.65"/>
<circle cx="301.8" cy="459.8" r="2.65"/>
<circle cx="311.4" cy="444.1" r="2.65"/>
<circle cx="304" cy="450.3" r="2.65"/>
<circle cx="312.3" cy="447.7" r="2.65"/>
<circle cx="306.2" cy="443.1" r="2.65"/>
<circle cx="307.7" cy="460.6" r="2.65"/>
<circle cx="300.2" cy="452.3" r="2.65"/>
<circle cx="311.1" cy="443.1" r="2.65"/>
<circle cx="305.7" cy="463.8" r="2.65"/>
<circle cx="303.2" cy="449" r="2.65"/>
<circle cx="317.4" cy="447.8" r="2.65"/>
<circle cx="308.8" cy="459.4" r="2.65"/>
<circle cx="302.2" cy="454.6" r="2.65"/>
<circle cx="303.1" cy="443.8" r="2.65"/>
<circle cx="307" cy="445.6" r="2.65"/>
<circle cx="316.4" cy="435.5" r="2.65"/>
<circle cx="314.8" cy="453.8" r="2.65"/>
<circle cx="315.7" cy="443.6" r="2.65"/>
<circle cx="318.3" cy="430.7" r="2.65"/>
<circle cx="315.3" cy="447.2" r="2.65"/>
<circle cx="310" cy="457.2" r="2.65"/>
<circle cx="315.7" cy="454" r="2.65"/>
<circle cx="335.2" cy="419.9" r="2.65"/>
<circle cx="338.1" cy="426.3" r="2.65"/>
<circle cx="329.8" cy="432.4" r="2.65"/>
<circle cx="339.7" cy="446.3" r="2.65"/>
<circle cx="332.5" cy="435" r="2.65"/>
<circle cx="323.6" cy="448.4" r="2.65"/>
<circle cx="334.5" cy="425.1" r="2.65"/>
<circle cx="341.1" cy="436.9" r="2.65"/>
<circle cx="344" cy="401.3" r="2.65"/>
<circle cx="320.3" cy="434.1" r="2.65"/>
<circle cx="334.1" cy="445.1" r="2.65"/>
<circle cx="333.5" cy="443.9" r="2.65"/>
<circle cx="332.9" cy="431.3" r="2.65"/>
<circle cx="328.9" cy="432.2" r="2.65"/>
<circle cx="328.8" cy="447.3" r="2.65"/>
<circle cx="322.5" cy="427.3" r="2.65"/>
<circle cx="330" cy="423" r="2.65"/>
<circle cx="344.1" cy="419.1" r="2.65"/>
<circle cx="331" cy="446.6" r="2.65"/>
<circle cx="333.3" cy="444.2" r="2.65"/>
<circle cx="59.3" cy="559.3" r="2.65"/>
<circle cx="66.2" cy="565.7" r="2.65"/>
<circle cx="77.1" cy="535.5" r="2.65"/>
<circle cx="90.3" cy="543.2" r="2.65"/>
<circle cx="89.6" cy="556.3" r="2.65"/>
<circle cx="89.6" cy="565.7" r="2.65"/>
<circle cx="104.9" cy="560" r="2.65"/>
<circle cx="118.8" cy="522.1" r="2.65"/>
<circle cx="122.3" cy="504.2" r="2.65"/>
<circle cx="137" cy="504.4" r="2.65"/>
<circle cx="145.6" cy="503.4" r="2.65"/>
<circle cx="117.6" cy="536.7" r="2.65"/>
<circle cx="122.3" cy="534.5" r="2.65"/>
<circle cx="124.8" cy="549.1" r="2.65"/>
<circle cx="122.3" cy="553.3" r="2.65"/>
<circle cx="141.7" cy="524.8" r="2.65"/>
<circle cx="159.5" cy="461.3" r="2.65"/>
<circle cx="163.5" cy="470.4" r="2.65"/>
<circle cx="175.2" cy="464.5" r="2.65"/>
<circle cx="181.1" cy="463" r="2.65"/>
<circle cx="191" cy="462.5" r="2.65"/>
<circle cx="173.2" cy="470.9" r="2.65"/>
<circle cx="169" cy="475.4" r="2.65"/>
<circle cx="153.3" cy="480.4" r="2.65"/>
<circle cx="155.3" cy="482.1" r="2.65"/>
<circle cx="159.5" cy="482.1" r="2.65"/>
<circle cx="149.9" cy="488.3" r="2.65"/>
<circle cx="153.3" cy="489.6" r="2.65"/>
<circle cx="188.8" cy="478.4" r="2.65"/>
<circle cx="188.8" cy="487.1" r="2.65"/>
<circle cx="186.3" cy="497" r="2.65"/>
<circle cx="186.3" cy="501.5" r="2.65"/>
<circle cx="171.4" cy="509.9" r="2.65"/>
<circle cx="166.5" cy="512.4" r="2.65"/>
<circle cx="150.8" cy="521.8" r="2.65"/>
<circle cx="154.1" cy="524.8" r="2.65"/>
<circle cx="153.3" cy="530.5" r="2.65"/>
<circle cx="161.5" cy="522" r="2.65"/>
<circle cx="76.4" cy="611.1" r="2.65"/>
<circle cx="165.2" cy="614.9" r="2.65"/>
<circle cx="144" cy="602" r="2.65"/>
<circle cx="144" cy="592.5" r="2.65"/>
<circle cx="167.2" cy="591.8" r="2.65"/>
<circle cx="159" cy="593.3" r="2.65"/>
<circle cx="155.3" cy="590" r="2.65"/>
<circle cx="179.6" cy="567.7" r="2.65"/>
<circle cx="172.7" cy="564.7" r="2.65"/>
<circle cx="84.1" cy="621.8" r="2.65"/>
<circle cx="97.5" cy="624" r="2.65"/>
<circle cx="95" cy="615.1" r="2.65"/>
<circle cx="100.7" cy="612.9" r="2.65"/>
<circle cx="107.7" cy="616.6" r="2.65"/>
<circle cx="90.8" cy="602.2" r="2.65"/>
<circle cx="95" cy="605.4" r="2.65"/>
<circle cx="91.5" cy="609.1" r="2.65"/>
<circle cx="98.2" cy="596.5" r="2.65"/>
<circle cx="103.2" cy="596.5" r="2.65"/>
<circle cx="104.4" cy="604.2" r="2.65"/>
<circle cx="105.7" cy="607.1" r="2.65"/>
<circle cx="110.6" cy="602.2" r="2.65"/>
<circle cx="149.9" cy="631.7" r="2.65"/>
<circle cx="148.6" cy="638.9" r="2.65"/>
<circle cx="328" cy="357.3" r="2.65"/>
<circle cx="335.7" cy="374.9" r="2.65"/>
<circle cx="295.5" cy="394" r="2.65"/>
<circle cx="263.9" cy="408.2" r="2.65"/>
<circle cx="343.1" cy="393.5" r="2.65"/>
<circle cx="338.9" cy="398.2" r="2.65"/>
<circle cx="328.5" cy="402.5" r="2.65"/>
<circle cx="296" cy="408.9" r="2.65"/>
<circle cx="299.2" cy="409.9" r="2.65"/>
<circle cx="315.3" cy="410.9" r="2.65"/>
<circle cx="351.3" cy="406.9" r="2.65"/>
<circle cx="351.3" cy="410.6" r="2.65"/>
<circle cx="331.4" cy="417.3" r="2.65"/>
<circle cx="340.1" cy="415.6" r="2.65"/>
<circle cx="346.8" cy="418.6" r="2.65"/>
<circle cx="283.1" cy="422.3" r="2.65"/>
<circle cx="306.6" cy="420.6" r="2.65"/>
<circle cx="277.3" cy="426.3" r="2.65"/>
<circle cx="244.1" cy="430.5" r="2.65"/>
<circle cx="249.6" cy="434.7" r="2.65"/>
<circle cx="259.5" cy="439.2" r="2.65"/>
<circle cx="236.4" cy="439.2" r="2.65"/>
<circle cx="206.9" cy="446.6" r="2.65"/>
<circle cx="213.6" cy="446.1" r="2.65"/>
<circle cx="255.8" cy="451.8" r="2.65"/>
<circle cx="212.8" cy="461.5" r="2.65"/>
<circle cx="211.1" cy="471.9" r="2.65"/>
<circle cx="205.4" cy="480.1" r="2.65"/>
<circle cx="238.9" cy="465.2" r="2.65"/>
<circle cx="248.8" cy="466.7" r="2.65"/>
<circle cx="232.7" cy="471.9" r="2.65"/>
<circle cx="322.3" cy="484.6" r="2.65"/>
<circle cx="313.6" cy="512.9" r="2.65"/>
<circle cx="282.3" cy="507.4" r="2.65"/>
<circle cx="284.3" cy="514.1" r="2.65"/>
<circle cx="257" cy="514.9" r="2.65"/>
<circle cx="357.5" cy="452.1" r="2.65"/>
<circle cx="343.8" cy="442.9" r="2.65"/>
<circle cx="350" cy="442.4" r="2.65"/>
<circle cx="282.3" cy="517.7" r="2.65"/>
<circle cx="259.5" cy="522.7" r="2.65"/>
<circle cx="269.4" cy="527.9" r="2.65"/>
<circle cx="248.8" cy="547.5" r="2.65"/>
<circle cx="230.9" cy="558.4" r="2.65"/>
<circle cx="223" cy="572.3" r="2.65"/>
<circle cx="211.8" cy="583" r="2.65"/>
<circle cx="316.6" cy="536.1" r="2.65"/>
<circle cx="336.4" cy="537.3" r="2.65"/>
<circle cx="299.4" cy="546.5" r="2.65"/>
<circle cx="278.1" cy="579" r="2.65"/>
<circle cx="300.9" cy="606.8" r="2.65"/>
<circle cx="340.4" cy="613.7" r="2.65"/>
<circle cx="244.2" cy="620.9" r="2.65"/>
<circle cx="239.1" cy="628" r="2.65"/>
<circle cx="213" cy="625.7" r="2.65"/>
<circle cx="207" cy="639.7" r="2.65"/>
<circle cx="242.1" cy="532.9" r="2.65"/>
<circle cx="245.8" cy="537.6" r="2.65"/>
<circle cx="230.9" cy="539.6" r="2.65"/>
<circle cx="218.5" cy="538.3" r="2.65"/>
<circle cx="218.5" cy="544.5" r="2.65"/>
<circle cx="209.9" cy="548.2" r="2.65"/>
<circle cx="193.7" cy="552" r="2.65"/>
<circle cx="371.5" cy="285.7" r="2.65"/>
<circle cx="492.1" cy="310.3" r="2.65"/>
<circle cx="488.1" cy="325.7" r="2.65"/>
<circle cx="498.8" cy="323.7" r="2.65"/>
<circle cx="505.5" cy="336.6" r="2.65"/>
<circle cx="435.8" cy="356" r="2.65"/>
<circle cx="442.2" cy="358.9" r="2.65"/>
<circle cx="414.9" cy="361.9" r="2.65"/>
<circle cx="414.4" cy="369.9" r="2.65"/>
<circle cx="429.3" cy="371.6" r="2.65"/>
<circle cx="435.5" cy="371.6" r="2.65"/>
<circle cx="412" cy="377.3" r="2.65"/>
<circle cx="413.7" cy="379" r="2.65"/>
<circle cx="413.7" cy="384" r="2.65"/>
<circle cx="399.6" cy="377.8" r="2.65"/>
<circle cx="395.1" cy="380" r="2.65"/>
<circle cx="387.1" cy="380.3" r="2.65"/>
<circle cx="387.1" cy="384" r="2.65"/>
<circle cx="402" cy="384.7" r="2.65"/>
<circle cx="398.3" cy="386.5" r="2.65"/>
<circle cx="399.6" cy="389" r="2.65"/>
<circle cx="380.4" cy="387.7" r="2.65"/>
<circle cx="387.1" cy="389.7" r="2.65"/>
<circle cx="375.5" cy="393.4" r="2.65"/>
<circle cx="383.4" cy="394.7" r="2.65"/>
<circle cx="405.8" cy="393.2" r="2.65"/>
<circle cx="422.4" cy="400.4" r="2.65"/>
<circle cx="395.8" cy="399.6" r="2.65"/>
<circle cx="381.4" cy="400.1" r="2.65"/>
<circle cx="374.7" cy="400.1" r="2.65"/>
<circle cx="372.3" cy="401.9" r="2.65"/>
<circle cx="371.5" cy="405.8" r="2.65"/>
<circle cx="389.6" cy="403.8" r="2.65"/>
<circle cx="364.8" cy="407.1" r="2.65"/>
<circle cx="409" cy="408.8" r="2.65"/>
<circle cx="390.9" cy="411.3" r="2.65"/>
<circle cx="382.7" cy="412.5" r="2.65"/>
<circle cx="391.4" cy="419.5" r="2.65"/>
<circle cx="392.1" cy="422" r="2.65"/>
<circle cx="379.2" cy="420.5" r="2.65"/>
<circle cx="371" cy="416.3" r="2.65"/>
<circle cx="357.4" cy="413.8" r="2.65"/>
<circle cx="361.8" cy="416.7" r="2.65"/>
<circle cx="361.8" cy="420" r="2.65"/>
<circle cx="352.4" cy="412.5" r="2.65"/>
<circle cx="354.9" cy="422.5" r="2.65"/>
<circle cx="369.3" cy="433.6" r="2.65"/>
<circle cx="363.6" cy="436.6" r="2.65"/>
<circle cx="352.4" cy="433.1" r="2.65"/>
<circle cx="346.2" cy="427.4" r="2.65"/>
<circle cx="348.7" cy="426.2" r="2.65"/>
<circle cx="341.2" cy="434.9" r="2.65"/>
<circle cx="386.7" cy="565.7" r="2.65"/>
<circle cx="472.8" cy="640.6" r="2.65"/>
<circle cx="377.2" cy="442.8" r="2.65"/>
<circle cx="358.6" cy="443.1" r="2.65"/>
<circle cx="372.3" cy="455.7" r="2.65"/>
<circle cx="652.3" cy="225.3" r="2.65"/>
<circle cx="599.7" cy="255.7" r="2.65"/>
<circle cx="573.2" cy="263.4" r="2.65"/>
<circle cx="548" cy="263.4" r="2.65"/>
<circle cx="556.3" cy="278.2" r="2.65"/>
<circle cx="553" cy="283" r="2.65"/>
<circle cx="512" cy="285.6" r="2.65"/>
<circle cx="524.8" cy="288.4" r="2.65"/>
<circle cx="526.6" cy="287.6" r="2.65"/>
<circle cx="77.7" cy="85.6" r="2.65"/>
<circle cx="223" cy="94" r="2.65"/>
</g>
<g font-size="8.5" text-anchor="middle" fill="#000">
<text x="69.5" y="98.3">GRC-P10</text>
<text x="233" y="88.8">CYP-P15</text>
<text x="362.8" y="297.5">RUS-P09</text>
<text x="337" y="351.3">RUS-P04</text>
<text x="255" y="419.8">JPN-P03</text>
<text x="214" y="441.3">TWN-P11</text>
<text x="148" y="455.8">BEL-P09</text>
<text x="189" y="459.3">BEL-P03</text>
<text x="141.5" y="474.8">BEL-P06</text>
<text x="186.2" y="479.4">NOR-P04</text>
<text x="162" y="493.3">NOR-P07</text>
<text x="113.5" y="516.3">NOR-P11</text>
<text x="308.4" y="529.9">CYP-P10</text>
<text x="345" y="549.1">LVA-P10</text>
<text x="290.5" y="558.5">LVA-P09</text>
<text x="286.8" y="573.4">CAN-P05</text>
<text x="378.5" y="577.4">CAN-P02</text>
<text x="203.6" y="595">HRV-P07</text>
<text x="295.5" y="601.4">CAN-P04</text>
<text x="157" y="609.3">LUX-P10</text>
<text x="253" y="615">CAN-P06</text>
<text x="204.6" y="619.9">CAN-P08</text>
<text x="157.8" y="626.3">HRV-P18</text>
<text x="350" y="625.8">CAN-P11</text>
<text x="481.4" y="635.2">LUX-P05</text>
<text x="248.2" y="639.5">CAN-P07</text>
<text x="139.7" y="650.4">CAN-P19</text>
<text x="198.4" y="651.4">CAN-P21</text>
</g>
<rect x="30.3" y="56.6" width="651.7" height="650.8" fill="none" stroke="#555" stroke-width="1.5"/>
<g stroke="#333" stroke-width="1.1">
<line x1="56.1" y1="707.4" x2="56.1" y2="710.6999999999999"/>
<line x1="198.6" y1="707.4" x2="198.6" y2="710.6999999999999"/>
<line x1="341.0" y1="707.4" x2="341.0" y2="710.6999999999999"/>
<line x1="483.5" y1="707.4" x2="483.5" y2="710.6999999999999"/>
<line x1="626.0" y1="707.4" x2="626.0" y2="710.6999999999999"/>
<line x1="27.0" y1="232.9" x2="30.3" y2="232.9"/>
<line x1="27.0" y1="437.0" x2="30.3" y2="437.0"/>
<line x1="27.0" y1="640.9" x2="30.3" y2="640.9"/>
</g>
<g font-size="10.4" fill="#4d4d4d">
<text x="56.1" y="721.0" text-anchor="middle">1.0</text>
<text x="198.6" y="721.0" text-anchor="middle">1.5</text>
<text x="341.0" y="721.0" text-anchor="middle">2.0</text>
<text x="483.5" y="721.0" text-anchor="middle">2.5</text>
<text x="626.0" y="721.0" text-anchor="middle">3.0</text>
<text x="23.700000000000003" y="236.5" text-anchor="end">3</text>
<text x="23.700000000000003" y="440.6" text-anchor="end">2</text>
<text x="23.700000000000003" y="644.5" text-anchor="end">1</text>
</g>
<text x="356.1" y="735.3" font-size="13.4" text-anchor="middle">between effects multiplier</text>
<text transform="translate(13.4,382.0) rotate(-90)" font-size="13.35" text-anchor="middle">Leontief multiplier</text>
<text x="652.3" y="676.5" font-size="13.3" text-anchor="end"><tspan font-style="italic">R</tspan><tspan dy="-5" font-size="9.5" dx="1">2</tspan><tspan dy="5"> = 0.693</tspan></text>
<text x="654.3" y="694.9" font-size="13.3" text-anchor="end">No. outliers: 28/917</text>
<path d="M66.3,1317.1 L77.9,1304.7 L92.8,1296.1 L131.3,1267.9 L135,1261.7 L143.7,1262.9 L147.4,1254.2 L158.6,1251.7 L159.8,1244.3 L166,1245.5 L169.8,1239.3 L178.4,1235.6 L179.7,1229.4 L185.9,1229.4 L190.8,1222 L198.3,1220.7 L202,1213.3 L207,1212 L208.7,1214.6 L216.7,1201.9 L219.7,1206.7 L222.9,1197.2 L226.4,1198 L229.1,1200.6 L235.8,1188.7 L245.2,1182 L246.5,1188.8 L248.4,1178.4 L251.3,1182.4 L253.2,1174.5 L254.5,1181.1 L256.4,1173.4 L260.1,1175.6 L261.5,1168.6 L264.3,1173.1 L268.1,1173.3 L275.5,1167.1 L276.9,1163.8 L279.7,1158.5 L283.4,1156 L284.9,1157.4 L286.7,1154 L289.6,1154.6 L292.5,1147.5 L293.9,1150.2 L295.8,1144.8 L298.3,1148.4 L299.6,1143.6 L301.6,1148.1 L304.5,1141.7 L309.6,1136.3 L311.1,1134.5 L313,1139.3 L315.2,1133.3 L316.9,1137.6 L318.2,1131.3 L321.7,1133.2 L323.6,1123.9 L325.6,1127.3 L326.9,1121.8 L328.8,1126.4 L330.1,1120.3 L331.8,1122.7 L335.3,1118.8 L337.5,1119.3 L338.8,1112.4 L340.4,1117.3 L341.7,1111.1 L343.7,1118 L348.1,1114.9 L352.4,1109.2 L354.2,1103.8 L356.1,1107.3 L358.6,1098.8 L361.1,1101.9 L362.8,1095.9 L364.3,1102.5 L366.3,1092.8 L367.7,1096.8 L369.5,1090.2 L371.1,1094.6 L373,1090.2 L377.1,1092.4 L379.4,1083.1 L380.8,1088.6 L382.2,1081 L383.5,1087.5 L384.9,1081.6 L389.2,1082.4 L390.5,1078.1 L391.8,1079.5 L393.4,1076.2 L394.6,1080 L396,1070.7 L399.1,1074.5 L400.4,1071.5 L401.6,1076.2 L403.1,1067.5 L406.6,1066.8 L409.7,1067.1 L411.3,1061.3 L413,1067.2 L415.8,1058.6 L417.1,1062.5 L418.6,1058.2 L420,1062.5 L421.3,1056.4 L423.2,1058.4 L425.6,1049.9 L426.9,1054.2 L428.4,1048.3 L430.1,1055.3 L431.9,1046.2 L433.2,1052.4 L435.3,1045.9 L437.1,1048.1 L438.4,1043.5 L440,1047.7 L441.5,1040.6 L443.2,1043.7 L444.7,1035.3 L447.5,1042.3 L449,1032.3 L452.2,1037.2 L453.7,1030.9 L455.2,1036.2 L457,1028.6 L458.4,1032 L460.2,1026.6 L461.6,1029.1 L462.9,1024.7 L464.8,1030.3 L466.5,1019.7 L468.7,1025.9 L470,1019.1 L472.6,1021.9 L474,1017.9 L475.9,1019.2 L477.4,1012.5 L478.7,1019.7 L480,1012.4 L482.3,1016.7 L483.7,1008 L485.3,1014.2 L487.1,1006 L489.7,1011.2 L491,1004.4 L492.5,1009 L493.9,1002.6 L495.5,1005.9 L497.5,998 L499.9,1003.5 L501.7,996.9 L503,1002.4 L504.7,993.2 L506.3,998.4 L507.8,993.7 L509.8,995.8 L511.3,990.1 L512.7,994.2 L514.2,987.1 L515.6,992.7 L517,984.3 L518.2,990.7 L519.8,983.5 L521.1,988 L522.5,979.9 L523.9,986.7 L525.3,979.5 L526.6,984.8 L528.4,975.1 L529.6,982 L531.1,972.7 L532.4,981.1 L533.6,972.8 L535,977.4 L536.2,972.4 L537.5,976.9 L538.7,967.3 L540.1,973.5 L542.2,965.8 L543.7,971.9 L545.4,963.3 L546.9,967.2 L548.1,961.2 L549.4,967.1 L550.8,959.7 L552.1,964.5 L553.4,958 L554.6,964.2 L556,956 L557.2,962.1 L558.5,956.8 L559.8,957.8 L561.2,953.1 L562.5,957.9 L563.7,952.2 L565,956.3 L566.8,948.2 L568,951.4 L570,946.6 L571.2,949.8 L572.6,946.4 L574,947.4 L575.2,943.4 L576.5,945.8 L578,941.9 L579.5,943 L580.7,938.8 L582,942.6 L583.3,936.3 L585,941.3 L586.2,935.8 L588.2,940.3 L589.5,934.4 L591.3,936 L592.8,930.8 L594,934 L595.2,929.8 L596.7,933.9 L598,926.6 L599.2,928.7 L601.1,923.4 L602.9,926.3 L604.3,921.4 L607.1,924.2 L608.5,918.2 L610.6,924.3 L612.2,914.5 L613.5,919.9 L615,912.5 L616.2,918.9 L617.9,912.2 L619.9,914.1 L621.1,908.9 L622.6,913.9 L624.4,905 L625.8,913.3 L627,904.6 L628.5,908.7 L629.9,901.3 L631.6,905 L633.8,901.8 L635.4,904.6 L636.7,897.5 L638.7,900.5 L640.1,895 L643.2,900.3 L644.9,892.6 L646.3,896.2 L648.5,890.6 L650.4,892.6 L652.7,888.7 L652.7,1017.3 L650.4,1021.2 L648.5,1019.2 L646.3,1024.8 L644.9,1021.2 L643.2,1028.9 L640.1,1023.6 L638.7,1029.1 L636.7,1026.1 L635.4,1033.2 L633.8,1030.4 L631.6,1033.6 L629.9,1029.9 L628.5,1037.3 L627,1033.2 L625.8,1041.9 L624.4,1033.6 L622.6,1042.5 L621.1,1037.5 L619.9,1042.7 L617.9,1040.8 L616.2,1047.5 L615,1041.1 L613.5,1048.5 L612.2,1043.1 L610.6,1052.9 L608.5,1046.8 L607.1,1052.8 L604.3,1050 L602.9,1054.9 L601.1,1052 L599.2,1057.3 L598,1055.2 L596.7,1062.5 L595.2,1058.4 L594,1062.6 L592.8,1059.4 L591.3,1064.6 L589.5,1063 L588.2,1068.9 L586.2,1064.4 L585,1069.9 L583.3,1064.9 L582,1071.2 L580.7,1067.4 L579.5,1071.6 L578,1070.5 L576.5,1074.4 L575.2,1072 L574,1076 L572.6,1075 L571.2,1078.4 L570,1075.2 L568,1080 L566.8,1076.8 L565,1084.9 L563.7,1080.8 L562.5,1086.5 L561.2,1081.7 L559.8,1086.4 L558.5,1085.4 L557.2,1090.7 L556,1084.6 L554.6,1092.8 L553.4,1086.6 L552.1,1093.1 L550.8,1088.3 L549.4,1095.7 L548.1,1089.8 L546.9,1095.8 L545.4,1091.9 L543.7,1100.5 L542.2,1094.4 L540.1,1102.1 L538.7,1095.9 L537.5,1105.5 L536.2,1101 L535,1106 L533.6,1101.4 L532.4,1109.7 L531.1,1101.3 L529.6,1110.6 L528.4,1103.7 L526.6,1113.4 L525.3,1108.1 L523.9,1115.3 L522.5,1108.5 L521.1,1116.6 L519.8,1112.1 L518.2,1119.3 L517,1112.9 L515.6,1121.3 L514.2,1115.7 L512.7,1122.8 L511.3,1118.7 L509.8,1124.4 L507.8,1122.3 L506.3,1127 L504.7,1121.8 L503,1131 L501.7,1125.5 L499.9,1132.1 L497.5,1126.6 L495.5,1134.5 L493.9,1131.2 L492.5,1137.6 L491,1133 L489.7,1139.8 L487.1,1134.6 L485.3,1142.8 L483.7,1136.6 L482.3,1145.3 L480,1141 L478.7,1148.3 L477.4,1141.1 L475.9,1147.8 L474,1146.5 L472.6,1150.5 L470,1147.7 L468.7,1154.5 L466.5,1148.3 L464.8,1158.9 L462.9,1153.3 L461.6,1157.7 L460.2,1155.2 L458.4,1160.6 L457,1157.2 L455.2,1164.8 L453.7,1159.5 L452.2,1165.8 L449,1160.9 L447.5,1170.9 L444.7,1163.9 L443.2,1172.3 L441.5,1169.2 L440,1176.3 L438.4,1172.1 L437.1,1176.7 L435.3,1174.5 L433.2,1181 L431.9,1174.8 L430.1,1183.9 L428.4,1176.9 L426.9,1182.8 L425.6,1178.5 L423.2,1187 L421.3,1185 L420,1191.1 L418.6,1186.8 L417.1,1191.1 L415.8,1187.2 L413,1195.8 L411.3,1189.9 L409.7,1195.7 L406.6,1195.4 L403.1,1196.1 L401.6,1204.8 L400.4,1200.1 L399.1,1203.1 L396,1199.3 L394.6,1208.6 L393.4,1204.8 L391.8,1208.1 L390.5,1206.7 L389.2,1211 L384.9,1210.2 L383.5,1216.1 L382.2,1209.6 L380.8,1217.2 L379.4,1211.7 L377.1,1221 L373,1218.8 L371.1,1223.2 L369.5,1218.8 L367.7,1225.4 L366.3,1221.4 L364.3,1231.1 L362.8,1224.5 L361.1,1230.5 L358.6,1227.4 L356.1,1235.9 L354.2,1232.4 L352.4,1237.8 L348.1,1243.5 L343.7,1246.6 L341.7,1239.7 L340.4,1245.9 L338.8,1241 L337.5,1247.9 L335.3,1247.4 L331.8,1251.3 L330.1,1248.9 L328.8,1255 L326.9,1250.4 L325.6,1255.9 L323.6,1252.5 L321.7,1261.8 L318.2,1259.9 L316.9,1266.2 L315.2,1261.9 L313,1267.9 L311.1,1263.1 L309.6,1264.9 L304.5,1270.3 L301.6,1276.7 L299.6,1272.2 L298.3,1277 L295.8,1273.4 L293.9,1278.8 L292.5,1276.1 L289.6,1283.2 L286.7,1282.6 L284.9,1286 L283.4,1284.6 L279.7,1287.1 L276.9,1292.4 L275.5,1295.7 L268.1,1301.9 L264.3,1301.7 L261.5,1297.2 L260.1,1304.2 L256.4,1302 L254.5,1309.7 L253.2,1303.1 L251.3,1311 L248.4,1307 L246.5,1317.4 L245.2,1310.6 L235.8,1317.3 L229.1,1329.2 L226.4,1326.6 L222.9,1325.8 L219.7,1335.3 L216.7,1330.5 L208.7,1343.2 L207,1340.6 L202,1341.9 L198.3,1349.3 L190.8,1350.6 L185.9,1358 L179.7,1358 L178.4,1364.2 L169.8,1367.9 L166,1374.1 L159.8,1372.9 L158.6,1380.3 L147.4,1382.8 L143.7,1391.5 L135,1390.3 L131.3,1396.5 L92.8,1424.7 L77.9,1433.3 L66.3,1445.7 Z" fill="#cccccc"/>
<line x1="66.3" y1="1379.2" x2="652.7" y2="953.4" stroke="#000" stroke-width="2.3"/>
<g fill="#000">
<circle cx="292.5" cy="1190.4" r="2.65"/>
<circle cx="293.9" cy="1204.3" r="2.65"/>
<circle cx="298.3" cy="1204.4" r="2.65"/>
<circle cx="298.8" cy="1206.5" r="2.65"/>
<circle cx="311.1" cy="1203.6" r="2.65"/>
<circle cx="276.9" cy="1221.3" r="2.65"/>
<circle cx="254.5" cy="1253.1" r="2.65"/>
<circle cx="249.4" cy="1229.6" r="2.65"/>
<circle cx="348.1" cy="1201.3" r="2.65"/>
<circle cx="309.6" cy="1198.8" r="2.65"/>
<circle cx="261.5" cy="1260.4" r="2.65"/>
<circle cx="251.3" cy="1247.1" r="2.65"/>
<circle cx="265" cy="1235.2" r="2.65"/>
<circle cx="382.5" cy="1153.7" r="2.65"/>
<circle cx="380.8" cy="1162.8" r="2.65"/>
<circle cx="394.8" cy="1128.5" r="2.65"/>
<circle cx="385" cy="1140.6" r="2.65"/>
<circle cx="369.5" cy="1147.8" r="2.65"/>
<circle cx="419.8" cy="1154.9" r="2.65"/>
<circle cx="399.5" cy="1135.8" r="2.65"/>
<circle cx="372.1" cy="1158.8" r="2.65"/>
<circle cx="354.9" cy="1185" r="2.65"/>
<circle cx="403.6" cy="1115.9" r="2.65"/>
<circle cx="377.1" cy="1174.5" r="2.65"/>
<circle cx="417.1" cy="1123.6" r="2.65"/>
<circle cx="364.7" cy="1162" r="2.65"/>
<circle cx="413.7" cy="1095.7" r="2.65"/>
<circle cx="377.8" cy="1162.4" r="2.65"/>
<circle cx="355.1" cy="1155.6" r="2.65"/>
<circle cx="368.9" cy="1144.5" r="2.65"/>
<circle cx="356.1" cy="1153.8" r="2.65"/>
<circle cx="403.1" cy="1143.9" r="2.65"/>
<circle cx="357.1" cy="1177.5" r="2.65"/>
<circle cx="354.2" cy="1173.5" r="2.65"/>
<circle cx="389.2" cy="1137.3" r="2.65"/>
<circle cx="381.3" cy="1161.1" r="2.65"/>
<circle cx="359.2" cy="1194.9" r="2.65"/>
<circle cx="395.1" cy="1154" r="2.65"/>
<circle cx="364.9" cy="1175.3" r="2.65"/>
<circle cx="368.9" cy="1192.6" r="2.65"/>
<circle cx="371.3" cy="1153.6" r="2.65"/>
<circle cx="411.9" cy="1131.6" r="2.65"/>
<circle cx="409.8" cy="1146.2" r="2.65"/>
<circle cx="394.9" cy="1172.5" r="2.65"/>
<circle cx="364.9" cy="1161.1" r="2.65"/>
<circle cx="373" cy="1188.5" r="2.65"/>
<circle cx="370.7" cy="1165.1" r="2.65"/>
<circle cx="390.8" cy="1146.5" r="2.65"/>
<circle cx="367" cy="1151.6" r="2.65"/>
<circle cx="381.7" cy="1143" r="2.65"/>
<circle cx="417.1" cy="1109.1" r="2.65"/>
<circle cx="410.7" cy="1130.5" r="2.65"/>
<circle cx="362.8" cy="1187" r="2.65"/>
<circle cx="407.2" cy="1163.1" r="2.65"/>
<circle cx="367.5" cy="1171.6" r="2.65"/>
<circle cx="415.8" cy="1151.3" r="2.65"/>
<circle cx="363.8" cy="1200.1" r="2.65"/>
<circle cx="392.2" cy="1134.6" r="2.65"/>
<circle cx="379.5" cy="1155.5" r="2.65"/>
<circle cx="417.4" cy="1126.1" r="2.65"/>
<circle cx="366.7" cy="1158.3" r="2.65"/>
<circle cx="407.7" cy="1122.2" r="2.65"/>
<circle cx="391.8" cy="1140.3" r="2.65"/>
<circle cx="400.4" cy="1146.7" r="2.65"/>
<circle cx="354.8" cy="1172.9" r="2.65"/>
<circle cx="409.7" cy="1151.6" r="2.65"/>
<circle cx="393" cy="1136.5" r="2.65"/>
<circle cx="364.3" cy="1177.4" r="2.65"/>
<circle cx="381.2" cy="1151.6" r="2.65"/>
<circle cx="354.2" cy="1178.1" r="2.65"/>
<circle cx="390.1" cy="1159.4" r="2.65"/>
<circle cx="359.2" cy="1150.5" r="2.65"/>
<circle cx="418.6" cy="1150.4" r="2.65"/>
<circle cx="396" cy="1133.6" r="2.65"/>
<circle cx="359.8" cy="1151.6" r="2.65"/>
<circle cx="352.5" cy="1176" r="2.65"/>
<circle cx="399.1" cy="1140.4" r="2.65"/>
<circle cx="394.5" cy="1139.6" r="2.65"/>
<circle cx="383.8" cy="1146.9" r="2.65"/>
<circle cx="420" cy="1111.7" r="2.65"/>
<circle cx="355.3" cy="1151.1" r="2.65"/>
<circle cx="413" cy="1121.3" r="2.65"/>
<circle cx="401.6" cy="1129.2" r="2.65"/>
<circle cx="493.2" cy="1048.3" r="2.65"/>
<circle cx="448.1" cy="1091" r="2.65"/>
<circle cx="489.7" cy="1048.4" r="2.65"/>
<circle cx="453.4" cy="1104.1" r="2.65"/>
<circle cx="465.8" cy="1067" r="2.65"/>
<circle cx="470" cy="1073.4" r="2.65"/>
<circle cx="468.7" cy="1098.6" r="2.65"/>
<circle cx="426.4" cy="1094.5" r="2.65"/>
<circle cx="490.4" cy="1043.5" r="2.65"/>
<circle cx="478.3" cy="1064.4" r="2.65"/>
<circle cx="466.5" cy="1102.9" r="2.65"/>
<circle cx="455.2" cy="1098" r="2.65"/>
<circle cx="480" cy="1071.7" r="2.65"/>
<circle cx="422.4" cy="1109.3" r="2.65"/>
<circle cx="438.4" cy="1100" r="2.65"/>
<circle cx="475.9" cy="1065" r="2.65"/>
<circle cx="493.6" cy="1064.6" r="2.65"/>
<circle cx="440.5" cy="1119.9" r="2.65"/>
<circle cx="474.3" cy="1080.8" r="2.65"/>
<circle cx="436.2" cy="1126.8" r="2.65"/>
<circle cx="472.8" cy="1111.7" r="2.65"/>
<circle cx="455.4" cy="1105.7" r="2.65"/>
<circle cx="473.3" cy="1075.1" r="2.65"/>
<circle cx="435.9" cy="1091.7" r="2.65"/>
<circle cx="493.1" cy="1076.5" r="2.65"/>
<circle cx="490.4" cy="1057.3" r="2.65"/>
<circle cx="445.3" cy="1116.7" r="2.65"/>
<circle cx="430.9" cy="1092.6" r="2.65"/>
<circle cx="487.9" cy="1069.5" r="2.65"/>
<circle cx="476.9" cy="1090" r="2.65"/>
<circle cx="433.5" cy="1108.2" r="2.65"/>
<circle cx="456.1" cy="1092.6" r="2.65"/>
<circle cx="453.1" cy="1107.4" r="2.65"/>
<circle cx="470.1" cy="1074.5" r="2.65"/>
<circle cx="487.1" cy="1070" r="2.65"/>
<circle cx="498.6" cy="1056.7" r="2.65"/>
<circle cx="422.5" cy="1121.2" r="2.65"/>
<circle cx="489.8" cy="1091.1" r="2.65"/>
<circle cx="465.6" cy="1093.1" r="2.65"/>
<circle cx="444.7" cy="1103.2" r="2.65"/>
<circle cx="430.9" cy="1110.8" r="2.65"/>
<circle cx="456.4" cy="1124.2" r="2.65"/>
<circle cx="439" cy="1111.6" r="2.65"/>
<circle cx="431.3" cy="1135.8" r="2.65"/>
<circle cx="455.7" cy="1100.8" r="2.65"/>
<circle cx="470.4" cy="1072.7" r="2.65"/>
<circle cx="496.7" cy="1047.6" r="2.65"/>
<circle cx="474.8" cy="1085.2" r="2.65"/>
<circle cx="434.3" cy="1128.7" r="2.65"/>
<circle cx="420.9" cy="1103.6" r="2.65"/>
<circle cx="434.3" cy="1114.9" r="2.65"/>
<circle cx="441.8" cy="1095.5" r="2.65"/>
<circle cx="461.6" cy="1110.4" r="2.65"/>
<circle cx="469.2" cy="1084.4" r="2.65"/>
<circle cx="483.4" cy="1062.8" r="2.65"/>
<circle cx="492.5" cy="1096" r="2.65"/>
<circle cx="477.8" cy="1096.3" r="2.65"/>
<circle cx="430.4" cy="1098.9" r="2.65"/>
<circle cx="492.8" cy="1071.2" r="2.65"/>
<circle cx="450.1" cy="1079" r="2.65"/>
<circle cx="483.7" cy="1063.8" r="2.65"/>
<circle cx="495.5" cy="1049.3" r="2.65"/>
<circle cx="436.4" cy="1114.3" r="2.65"/>
<circle cx="477.8" cy="1086.6" r="2.65"/>
<circle cx="477.4" cy="1064.5" r="2.65"/>
<circle cx="437.1" cy="1090.8" r="2.65"/>
<circle cx="498.2" cy="1044.3" r="2.65"/>
<circle cx="445.6" cy="1097.4" r="2.65"/>
<circle cx="492.8" cy="1073.8" r="2.65"/>
<circle cx="426.6" cy="1108.3" r="2.65"/>
<circle cx="455.3" cy="1077.8" r="2.65"/>
<circle cx="459" cy="1086.1" r="2.65"/>
<circle cx="422.3" cy="1121.7" r="2.65"/>
<circle cx="484" cy="1068.7" r="2.65"/>
<circle cx="433.8" cy="1101.1" r="2.65"/>
<circle cx="431.2" cy="1138.7" r="2.65"/>
<circle cx="431.9" cy="1095.2" r="2.65"/>
<circle cx="487.2" cy="1067.8" r="2.65"/>
<circle cx="475.1" cy="1096.8" r="2.65"/>
<circle cx="495.9" cy="1058.7" r="2.65"/>
<circle cx="426.9" cy="1119.7" r="2.65"/>
<circle cx="443.2" cy="1123.8" r="2.65"/>
<circle cx="478.3" cy="1068.9" r="2.65"/>
<circle cx="487.5" cy="1060.2" r="2.65"/>
<circle cx="464.8" cy="1083.4" r="2.65"/>
<circle cx="487.6" cy="1083.3" r="2.65"/>
<circle cx="492" cy="1073.4" r="2.65"/>
<circle cx="497.5" cy="1090" r="2.65"/>
<circle cx="461.9" cy="1083.2" r="2.65"/>
<circle cx="462.9" cy="1085.6" r="2.65"/>
<circle cx="460.3" cy="1088.7" r="2.65"/>
<circle cx="497.6" cy="1059.7" r="2.65"/>
<circle cx="461.3" cy="1075.1" r="2.65"/>
<circle cx="465" cy="1104.1" r="2.65"/>
<circle cx="459.3" cy="1089.9" r="2.65"/>
<circle cx="463.1" cy="1084.9" r="2.65"/>
<circle cx="453.1" cy="1089.8" r="2.65"/>
<circle cx="441.5" cy="1099.4" r="2.65"/>
<circle cx="454.7" cy="1096.2" r="2.65"/>
<circle cx="485.3" cy="1085.6" r="2.65"/>
<circle cx="445.4" cy="1094.9" r="2.65"/>
<circle cx="435.3" cy="1091.8" r="2.65"/>
<circle cx="430.4" cy="1096.9" r="2.65"/>
<circle cx="482.3" cy="1083.7" r="2.65"/>
<circle cx="438.2" cy="1108.9" r="2.65"/>
<circle cx="475" cy="1075.3" r="2.65"/>
<circle cx="469.6" cy="1097.1" r="2.65"/>
<circle cx="428.4" cy="1114.1" r="2.65"/>
<circle cx="460.8" cy="1085" r="2.65"/>
<circle cx="440" cy="1112.6" r="2.65"/>
<circle cx="454.9" cy="1113.9" r="2.65"/>
<circle cx="450.1" cy="1087.5" r="2.65"/>
<circle cx="432.8" cy="1122.3" r="2.65"/>
<circle cx="436.3" cy="1098.5" r="2.65"/>
<circle cx="462.4" cy="1078.4" r="2.65"/>
<circle cx="488.1" cy="1054.2" r="2.65"/>
<circle cx="438.6" cy="1093.6" r="2.65"/>
<circle cx="479.3" cy="1088.6" r="2.65"/>
<circle cx="445.3" cy="1081.2" r="2.65"/>
<circle cx="445.2" cy="1112.4" r="2.65"/>
<circle cx="499.9" cy="1056.1" r="2.65"/>
<circle cx="491" cy="1074.1" r="2.65"/>
<circle cx="478.1" cy="1085.6" r="2.65"/>
<circle cx="440.8" cy="1131.6" r="2.65"/>
<circle cx="453.7" cy="1113.5" r="2.65"/>
<circle cx="483.2" cy="1084" r="2.65"/>
<circle cx="474.8" cy="1091" r="2.65"/>
<circle cx="421.4" cy="1128.1" r="2.65"/>
<circle cx="492.9" cy="1087.3" r="2.65"/>
<circle cx="497.5" cy="1074.8" r="2.65"/>
<circle cx="480.7" cy="1087.2" r="2.65"/>
<circle cx="460.2" cy="1088" r="2.65"/>
<circle cx="425.6" cy="1110.4" r="2.65"/>
<circle cx="428.5" cy="1136" r="2.65"/>
<circle cx="461.2" cy="1094.7" r="2.65"/>
<circle cx="465.5" cy="1092.9" r="2.65"/>
<circle cx="436.3" cy="1117.4" r="2.65"/>
<circle cx="487.2" cy="1068.1" r="2.65"/>
<circle cx="427.6" cy="1131.5" r="2.65"/>
<circle cx="457" cy="1094.4" r="2.65"/>
<circle cx="457.4" cy="1083.8" r="2.65"/>
<circle cx="461.2" cy="1077.4" r="2.65"/>
<circle cx="421.1" cy="1130.4" r="2.65"/>
<circle cx="476.1" cy="1084.1" r="2.65"/>
<circle cx="456.3" cy="1088.2" r="2.65"/>
<circle cx="479.1" cy="1070.6" r="2.65"/>
<circle cx="433.2" cy="1117.4" r="2.65"/>
<circle cx="461" cy="1093.3" r="2.65"/>
<circle cx="484.1" cy="1066.5" r="2.65"/>
<circle cx="470.4" cy="1063.9" r="2.65"/>
<circle cx="452.4" cy="1086.7" r="2.65"/>
<circle cx="498.6" cy="1053.7" r="2.65"/>
<circle cx="532.2" cy="1029.5" r="2.65"/>
<circle cx="529.8" cy="1037.1" r="2.65"/>
<circle cx="516.2" cy="1029.2" r="2.65"/>
<circle cx="535.9" cy="1042.5" r="2.65"/>
<circle cx="530.7" cy="1022.9" r="2.65"/>
<circle cx="530.6" cy="1020.6" r="2.65"/>
<circle cx="502.8" cy="1070.3" r="2.65"/>
<circle cx="513.7" cy="1046.4" r="2.65"/>
<circle cx="514.2" cy="1047.5" r="2.65"/>
<circle cx="525.5" cy="1032.1" r="2.65"/>
<circle cx="537.8" cy="1021.6" r="2.65"/>
<circle cx="526.6" cy="1029" r="2.65"/>
<circle cx="522.8" cy="1056.9" r="2.65"/>
<circle cx="521.3" cy="1032" r="2.65"/>
<circle cx="530.5" cy="1021.7" r="2.65"/>
<circle cx="539.2" cy="1043" r="2.65"/>
<circle cx="529.6" cy="1035.6" r="2.65"/>
<circle cx="510.3" cy="1048.4" r="2.65"/>
<circle cx="507.8" cy="1055.6" r="2.65"/>
<circle cx="515" cy="1055.4" r="2.65"/>
<circle cx="536.2" cy="1032.9" r="2.65"/>
<circle cx="522" cy="1017" r="2.65"/>
<circle cx="522.7" cy="1038.1" r="2.65"/>
<circle cx="539.8" cy="1014.8" r="2.65"/>
<circle cx="503" cy="1043.7" r="2.65"/>
<circle cx="523.9" cy="1038.4" r="2.65"/>
<circle cx="537.2" cy="1023.7" r="2.65"/>
<circle cx="506.4" cy="1048.4" r="2.65"/>
<circle cx="519.8" cy="1043.5" r="2.65"/>
<circle cx="524.4" cy="1049.9" r="2.65"/>
<circle cx="516.8" cy="1032.9" r="2.65"/>
<circle cx="514.6" cy="1044.7" r="2.65"/>
<circle cx="511.4" cy="1043.2" r="2.65"/>
<circle cx="511.3" cy="1040.2" r="2.65"/>
<circle cx="528.7" cy="1033.3" r="2.65"/>
<circle cx="509.8" cy="1053.6" r="2.65"/>
<circle cx="501.7" cy="1071.8" r="2.65"/>
<circle cx="515.6" cy="1066.1" r="2.65"/>
<circle cx="535.9" cy="1027.2" r="2.65"/>
<circle cx="539.6" cy="1021.9" r="2.65"/>
<circle cx="537.8" cy="1051.9" r="2.65"/>
<circle cx="517.2" cy="1058.4" r="2.65"/>
<circle cx="519.1" cy="1053.2" r="2.65"/>
<circle cx="520.9" cy="1039.8" r="2.65"/>
<circle cx="537.5" cy="1024.5" r="2.65"/>
<circle cx="539.2" cy="1015.8" r="2.65"/>
<circle cx="532.7" cy="1026.7" r="2.65"/>
<circle cx="525" cy="1034.6" r="2.65"/>
<circle cx="518.2" cy="1044.8" r="2.65"/>
<circle cx="521.1" cy="1045.2" r="2.65"/>
<circle cx="505" cy="1042.3" r="2.65"/>
<circle cx="518.2" cy="1050.9" r="2.65"/>
<circle cx="510.5" cy="1042.4" r="2.65"/>
<circle cx="531.1" cy="1027.1" r="2.65"/>
<circle cx="521.2" cy="1040.3" r="2.65"/>
<circle cx="529.4" cy="1033.6" r="2.65"/>
<circle cx="535.7" cy="1034" r="2.65"/>
<circle cx="531.4" cy="1025.5" r="2.65"/>
<circle cx="510.9" cy="1044.2" r="2.65"/>
<circle cx="527.4" cy="1024.3" r="2.65"/>
<circle cx="525.3" cy="1032.2" r="2.65"/>
<circle cx="530.1" cy="1036.2" r="2.65"/>
<circle cx="539.2" cy="1034.2" r="2.65"/>
<circle cx="536.6" cy="1029.5" r="2.65"/>
<circle cx="502.4" cy="1055.3" r="2.65"/>
<circle cx="510.8" cy="1039" r="2.65"/>
<circle cx="504.1" cy="1065.3" r="2.65"/>
<circle cx="521.7" cy="1045.7" r="2.65"/>
<circle cx="527.1" cy="1037.8" r="2.65"/>
<circle cx="522" cy="1034.1" r="2.65"/>
<circle cx="519.1" cy="1036.3" r="2.65"/>
<circle cx="508.4" cy="1043.9" r="2.65"/>
<circle cx="533.5" cy="1048" r="2.65"/>
<circle cx="503" cy="1076.7" r="2.65"/>
<circle cx="524.9" cy="1054.7" r="2.65"/>
<circle cx="530.8" cy="1035.1" r="2.65"/>
<circle cx="510.3" cy="1065.9" r="2.65"/>
<circle cx="532.4" cy="1021.9" r="2.65"/>
<circle cx="539.6" cy="1038.7" r="2.65"/>
<circle cx="513" cy="1034" r="2.65"/>
<circle cx="536.8" cy="1022.4" r="2.65"/>
<circle cx="517.1" cy="1041.7" r="2.65"/>
<circle cx="535" cy="1032.4" r="2.65"/>
<circle cx="503.1" cy="1073.4" r="2.65"/>
<circle cx="519.4" cy="1051.5" r="2.65"/>
<circle cx="527.4" cy="1030.4" r="2.65"/>
<circle cx="503" cy="1081.5" r="2.65"/>
<circle cx="508.5" cy="1050.2" r="2.65"/>
<circle cx="512.2" cy="1045.9" r="2.65"/>
<circle cx="529" cy="1031" r="2.65"/>
<circle cx="505.7" cy="1047.4" r="2.65"/>
<circle cx="514.3" cy="1045.8" r="2.65"/>
<circle cx="504.7" cy="1046.6" r="2.65"/>
<circle cx="528.4" cy="1016.6" r="2.65"/>
<circle cx="537.6" cy="1018.2" r="2.65"/>
<circle cx="536.5" cy="1012.9" r="2.65"/>
<circle cx="512.2" cy="1059.1" r="2.65"/>
<circle cx="512.7" cy="1031.5" r="2.65"/>
<circle cx="535.8" cy="1046" r="2.65"/>
<circle cx="509.9" cy="1045.5" r="2.65"/>
<circle cx="514.5" cy="1057.5" r="2.65"/>
<circle cx="515.8" cy="1041.2" r="2.65"/>
<circle cx="522.6" cy="1045.5" r="2.65"/>
<circle cx="531.9" cy="1015.1" r="2.65"/>
<circle cx="522.5" cy="1035.2" r="2.65"/>
<circle cx="507.1" cy="1055.1" r="2.65"/>
<circle cx="511.3" cy="1031.2" r="2.65"/>
<circle cx="500.9" cy="1046.7" r="2.65"/>
<circle cx="522.7" cy="1038.2" r="2.65"/>
<circle cx="538.7" cy="1016.6" r="2.65"/>
<circle cx="502.6" cy="1043.4" r="2.65"/>
<circle cx="521.9" cy="1041.4" r="2.65"/>
<circle cx="544.9" cy="1017.5" r="2.65"/>
<circle cx="584.2" cy="996.4" r="2.65"/>
<circle cx="578" cy="995.9" r="2.65"/>
<circle cx="548.6" cy="1017.7" r="2.65"/>
<circle cx="554.7" cy="1002.9" r="2.65"/>
<circle cx="553.2" cy="1016" r="2.65"/>
<circle cx="585.9" cy="985.6" r="2.65"/>
<circle cx="563.7" cy="997.5" r="2.65"/>
<circle cx="580.3" cy="988.6" r="2.65"/>
<circle cx="583.3" cy="994.4" r="2.65"/>
<circle cx="582.5" cy="1002.7" r="2.65"/>
<circle cx="589.6" cy="987" r="2.65"/>
<circle cx="580" cy="1006.6" r="2.65"/>
<circle cx="590" cy="981.9" r="2.65"/>
<circle cx="593.3" cy="998.5" r="2.65"/>
<circle cx="571.4" cy="999.4" r="2.65"/>
<circle cx="582.6" cy="997.5" r="2.65"/>
<circle cx="565.2" cy="999.2" r="2.65"/>
<circle cx="548.8" cy="1016.6" r="2.65"/>
<circle cx="562.5" cy="986.5" r="2.65"/>
<circle cx="550.1" cy="1020.6" r="2.65"/>
<circle cx="557.5" cy="1023.4" r="2.65"/>
<circle cx="598.2" cy="990" r="2.65"/>
<circle cx="546.9" cy="1023.2" r="2.65"/>
<circle cx="578.9" cy="997.8" r="2.65"/>
<circle cx="543.7" cy="1016.6" r="2.65"/>
<circle cx="567.5" cy="991.7" r="2.65"/>
<circle cx="542.2" cy="1013.8" r="2.65"/>
<circle cx="546.5" cy="1023" r="2.65"/>
<circle cx="554.1" cy="1021.7" r="2.65"/>
<circle cx="583" cy="990.8" r="2.65"/>
<circle cx="551.1" cy="1013.2" r="2.65"/>
<circle cx="556.9" cy="1021.3" r="2.65"/>
<circle cx="558.7" cy="1028" r="2.65"/>
<circle cx="572.9" cy="1005.6" r="2.65"/>
<circle cx="555.6" cy="1005.2" r="2.65"/>
<circle cx="593.2" cy="993.8" r="2.65"/>
<circle cx="572.8" cy="997.9" r="2.65"/>
<circle cx="597.4" cy="981.2" r="2.65"/>
<circle cx="543" cy="1023.1" r="2.65"/>
<circle cx="596.9" cy="987.4" r="2.65"/>
<circle cx="571.7" cy="995.6" r="2.65"/>
<circle cx="570.9" cy="999.1" r="2.65"/>
<circle cx="579.5" cy="996.6" r="2.65"/>
<circle cx="568.4" cy="1005.4" r="2.65"/>
<circle cx="562.3" cy="1013.2" r="2.65"/>
<circle cx="576.4" cy="989.3" r="2.65"/>
<circle cx="549.4" cy="1023.4" r="2.65"/>
<circle cx="555.6" cy="1021.7" r="2.65"/>
<circle cx="592.2" cy="980.9" r="2.65"/>
<circle cx="599.6" cy="982.1" r="2.65"/>
<circle cx="556" cy="1008.5" r="2.65"/>
<circle cx="586.2" cy="991.3" r="2.65"/>
<circle cx="540.1" cy="1035.3" r="2.65"/>
<circle cx="589.3" cy="980.7" r="2.65"/>
<circle cx="544.9" cy="1019.1" r="2.65"/>
<circle cx="545.8" cy="1040.1" r="2.65"/>
<circle cx="568.8" cy="987.4" r="2.65"/>
<circle cx="575.2" cy="1004.2" r="2.65"/>
<circle cx="591.4" cy="985.5" r="2.65"/>
<circle cx="565" cy="1024.6" r="2.65"/>
<circle cx="595" cy="998.7" r="2.65"/>
<circle cx="552.5" cy="1027.5" r="2.65"/>
<circle cx="572.6" cy="997.3" r="2.65"/>
<circle cx="589.9" cy="989.1" r="2.65"/>
<circle cx="558.7" cy="1009.6" r="2.65"/>
<circle cx="558.3" cy="1015.2" r="2.65"/>
<circle cx="568" cy="1002.7" r="2.65"/>
<circle cx="581.2" cy="990" r="2.65"/>
<circle cx="546.3" cy="1012.8" r="2.65"/>
<circle cx="598" cy="989.3" r="2.65"/>
<circle cx="589.8" cy="989.2" r="2.65"/>
<circle cx="562.6" cy="1006.9" r="2.65"/>
<circle cx="582.6" cy="995.3" r="2.65"/>
<circle cx="567.5" cy="1018.4" r="2.65"/>
<circle cx="540.6" cy="1047.3" r="2.65"/>
<circle cx="552.4" cy="1014.5" r="2.65"/>
<circle cx="577" cy="996.6" r="2.65"/>
<circle cx="572.4" cy="1010.9" r="2.65"/>
<circle cx="557.9" cy="1007.5" r="2.65"/>
<circle cx="580" cy="1004.2" r="2.65"/>
<circle cx="555.4" cy="1019" r="2.65"/>
<circle cx="559.8" cy="1027.7" r="2.65"/>
<circle cx="596.7" cy="978" r="2.65"/>
<circle cx="559.9" cy="1005.4" r="2.65"/>
<circle cx="589.6" cy="993.7" r="2.65"/>
<circle cx="545.7" cy="1024" r="2.65"/>
<circle cx="580.7" cy="994.7" r="2.65"/>
<circle cx="564.1" cy="1002.5" r="2.65"/>
<circle cx="590.2" cy="987.5" r="2.65"/>
<circle cx="553.6" cy="1012.6" r="2.65"/>
<circle cx="549.4" cy="1026.4" r="2.65"/>
<circle cx="544.4" cy="1030.3" r="2.65"/>
<circle cx="595.2" cy="980.8" r="2.65"/>
<circle cx="578.8" cy="1002" r="2.65"/>
<circle cx="586" cy="995.9" r="2.65"/>
<circle cx="559.9" cy="1003.5" r="2.65"/>
<circle cx="564.7" cy="1017.5" r="2.65"/>
<circle cx="582" cy="995.7" r="2.65"/>
<circle cx="598.9" cy="986.1" r="2.65"/>
<circle cx="576.5" cy="989.7" r="2.65"/>
<circle cx="541.1" cy="1019.8" r="2.65"/>
<circle cx="579" cy="1004.5" r="2.65"/>
<circle cx="546.4" cy="1012.9" r="2.65"/>
<circle cx="587.3" cy="998.6" r="2.65"/>
<circle cx="589.5" cy="987.5" r="2.65"/>
<circle cx="586" cy="990.1" r="2.65"/>
<circle cx="594.2" cy="982.3" r="2.65"/>
<circle cx="570" cy="1000.9" r="2.65"/>
<circle cx="548.5" cy="1012.9" r="2.65"/>
<circle cx="571" cy="983.6" r="2.65"/>
<circle cx="582.9" cy="997.3" r="2.65"/>
<circle cx="596.7" cy="982.3" r="2.65"/>
<circle cx="577.6" cy="999" r="2.65"/>
<circle cx="554.7" cy="1018.3" r="2.65"/>
<circle cx="574.6" cy="997.9" r="2.65"/>
<circle cx="595.7" cy="981.6" r="2.65"/>
<circle cx="561.7" cy="1005" r="2.65"/>
<circle cx="598.4" cy="984.6" r="2.65"/>
<circle cx="548.1" cy="1031.3" r="2.65"/>
<circle cx="573.6" cy="995.8" r="2.65"/>
<circle cx="573.6" cy="999.1" r="2.65"/>
<circle cx="599.5" cy="987.1" r="2.65"/>
<circle cx="547.4" cy="1009.3" r="2.65"/>
<circle cx="589.5" cy="987.1" r="2.65"/>
<circle cx="554.5" cy="1001.3" r="2.65"/>
<circle cx="551.1" cy="1009.8" r="2.65"/>
<circle cx="572.9" cy="1003.2" r="2.65"/>
<circle cx="550.8" cy="1017.8" r="2.65"/>
<circle cx="599.2" cy="993.4" r="2.65"/>
<circle cx="558.5" cy="1006.9" r="2.65"/>
<circle cx="580.3" cy="995.5" r="2.65"/>
<circle cx="575.5" cy="993" r="2.65"/>
<circle cx="588.2" cy="996.4" r="2.65"/>
<circle cx="568.1" cy="1004.7" r="2.65"/>
<circle cx="548.6" cy="1010.5" r="2.65"/>
<circle cx="550.4" cy="1027.2" r="2.65"/>
<circle cx="571.2" cy="1001.2" r="2.65"/>
<circle cx="559.9" cy="1024.7" r="2.65"/>
<circle cx="578.5" cy="1011.2" r="2.65"/>
<circle cx="548.7" cy="1022.3" r="2.65"/>
<circle cx="597.6" cy="980.1" r="2.65"/>
<circle cx="564.7" cy="1001.8" r="2.65"/>
<circle cx="577.4" cy="994" r="2.65"/>
<circle cx="585.1" cy="984.1" r="2.65"/>
<circle cx="569.1" cy="1023.7" r="2.65"/>
<circle cx="591.3" cy="988.3" r="2.65"/>
<circle cx="564.5" cy="998.3" r="2.65"/>
<circle cx="594.3" cy="990.8" r="2.65"/>
<circle cx="571.6" cy="994.9" r="2.65"/>
<circle cx="594.3" cy="985.9" r="2.65"/>
<circle cx="559.2" cy="1027.8" r="2.65"/>
<circle cx="594" cy="991.2" r="2.65"/>
<circle cx="583.9" cy="985.8" r="2.65"/>
<circle cx="558.3" cy="1004.1" r="2.65"/>
<circle cx="575.6" cy="1003.7" r="2.65"/>
<circle cx="566.8" cy="1007.2" r="2.65"/>
<circle cx="570.2" cy="1000.9" r="2.65"/>
<circle cx="581.7" cy="996.8" r="2.65"/>
<circle cx="571.6" cy="1002.3" r="2.65"/>
<circle cx="563.7" cy="1016.6" r="2.65"/>
<circle cx="554.2" cy="1025" r="2.65"/>
<circle cx="598" cy="979.3" r="2.65"/>
<circle cx="565.3" cy="994.1" r="2.65"/>
<circle cx="588.3" cy="993.1" r="2.65"/>
<circle cx="574" cy="1016.7" r="2.65"/>
<circle cx="594.2" cy="998.3" r="2.65"/>
<circle cx="547.4" cy="1031.8" r="2.65"/>
<circle cx="572.3" cy="1001.6" r="2.65"/>
<circle cx="554.6" cy="1013.5" r="2.65"/>
<circle cx="558" cy="1010" r="2.65"/>
<circle cx="593.7" cy="989.6" r="2.65"/>
<circle cx="588.9" cy="986.2" r="2.65"/>
<circle cx="575.1" cy="1005" r="2.65"/>
<circle cx="542.8" cy="1027.6" r="2.65"/>
<circle cx="558.5" cy="994.1" r="2.65"/>
<circle cx="598.6" cy="983.7" r="2.65"/>
<circle cx="568.4" cy="1006.2" r="2.65"/>
<circle cx="595.4" cy="992.3" r="2.65"/>
<circle cx="593.8" cy="992.2" r="2.65"/>
<circle cx="561.2" cy="1029.3" r="2.65"/>
<circle cx="568.3" cy="1014.3" r="2.65"/>
<circle cx="599.7" cy="996.4" r="2.65"/>
<circle cx="552.1" cy="1012.1" r="2.65"/>
<circle cx="592.8" cy="985.2" r="2.65"/>
<circle cx="543" cy="1038.4" r="2.65"/>
<circle cx="558.8" cy="1022.2" r="2.65"/>
<circle cx="594" cy="995.6" r="2.65"/>
<circle cx="548.1" cy="1009.4" r="2.65"/>
<circle cx="581.8" cy="1004.3" r="2.65"/>
<circle cx="544.7" cy="1017.5" r="2.65"/>
<circle cx="553.4" cy="1010.4" r="2.65"/>
<circle cx="551.8" cy="1033.7" r="2.65"/>
<circle cx="550.9" cy="1018" r="2.65"/>
<circle cx="587.4" cy="1004.1" r="2.65"/>
<circle cx="562.4" cy="1000.4" r="2.65"/>
<circle cx="575.4" cy="988.2" r="2.65"/>
<circle cx="553.7" cy="1008.9" r="2.65"/>
<circle cx="580" cy="994.7" r="2.65"/>
<circle cx="545.4" cy="1038.3" r="2.65"/>
<circle cx="599" cy="977.9" r="2.65"/>
<circle cx="571.8" cy="1006.2" r="2.65"/>
<circle cx="542.7" cy="1017" r="2.65"/>
<circle cx="555.1" cy="1009.8" r="2.65"/>
<circle cx="588.2" cy="996.8" r="2.65"/>
<circle cx="585.3" cy="996.4" r="2.65"/>
<circle cx="554.8" cy="1011.8" r="2.65"/>
<circle cx="551.2" cy="1031.3" r="2.65"/>
<circle cx="593.8" cy="989.1" r="2.65"/>
<circle cx="567.7" cy="1004.1" r="2.65"/>
<circle cx="585" cy="983.2" r="2.65"/>
<circle cx="570" cy="1018.9" r="2.65"/>
<circle cx="550.8" cy="1006.2" r="2.65"/>
<circle cx="561.6" cy="1005.1" r="2.65"/>
<circle cx="579.5" cy="998.8" r="2.65"/>
<circle cx="570.3" cy="994.8" r="2.65"/>
<circle cx="644" cy="944.1" r="2.65"/>
<circle cx="649.5" cy="937.8" r="2.65"/>
<circle cx="609" cy="976.2" r="2.65"/>
<circle cx="631.6" cy="954" r="2.65"/>
<circle cx="612.2" cy="966.5" r="2.65"/>
<circle cx="640.9" cy="951.4" r="2.65"/>
<circle cx="641.1" cy="948.5" r="2.65"/>
<circle cx="611.5" cy="981.1" r="2.65"/>
<circle cx="630.2" cy="956.4" r="2.65"/>
<circle cx="631" cy="956.6" r="2.65"/>
<circle cx="637.2" cy="945.3" r="2.65"/>
<circle cx="609.4" cy="971.5" r="2.65"/>
<circle cx="607.9" cy="984.3" r="2.65"/>
<circle cx="622.6" cy="964.8" r="2.65"/>
<circle cx="623" cy="963.2" r="2.65"/>
<circle cx="603.8" cy="992.4" r="2.65"/>
<circle cx="647.2" cy="939.5" r="2.65"/>
<circle cx="641.2" cy="946.3" r="2.65"/>
<circle cx="612.4" cy="976.2" r="2.65"/>
<circle cx="602.2" cy="985.8" r="2.65"/>
<circle cx="616.3" cy="966.2" r="2.65"/>
<circle cx="613.8" cy="968.4" r="2.65"/>
<circle cx="630.6" cy="965.7" r="2.65"/>
<circle cx="608.9" cy="982.1" r="2.65"/>
<circle cx="613.3" cy="977.4" r="2.65"/>
<circle cx="643.2" cy="952.8" r="2.65"/>
<circle cx="640.9" cy="953.1" r="2.65"/>
<circle cx="618.9" cy="969.6" r="2.65"/>
<circle cx="611.2" cy="975.6" r="2.65"/>
<circle cx="625.5" cy="961.3" r="2.65"/>
<circle cx="639.6" cy="952.2" r="2.65"/>
<circle cx="623.7" cy="962.9" r="2.65"/>
<circle cx="638.7" cy="953.8" r="2.65"/>
<circle cx="646.3" cy="944.6" r="2.65"/>
<circle cx="607.4" cy="973.9" r="2.65"/>
<circle cx="622.1" cy="967.6" r="2.65"/>
<circle cx="604" cy="984.5" r="2.65"/>
<circle cx="639.7" cy="949" r="2.65"/>
<circle cx="613.2" cy="969.4" r="2.65"/>
<circle cx="628.7" cy="959" r="2.65"/>
<circle cx="648.5" cy="947.2" r="2.65"/>
<circle cx="618.9" cy="961.8" r="2.65"/>
<circle cx="631.8" cy="961.4" r="2.65"/>
<circle cx="633.8" cy="955.5" r="2.65"/>
<circle cx="603" cy="976.3" r="2.65"/>
<circle cx="645" cy="951.2" r="2.65"/>
<circle cx="630.7" cy="961.6" r="2.65"/>
<circle cx="620.4" cy="963.3" r="2.65"/>
<circle cx="643.8" cy="941.8" r="2.65"/>
<circle cx="611.2" cy="981.5" r="2.65"/>
<circle cx="618.1" cy="971.2" r="2.65"/>
<circle cx="608.5" cy="983.7" r="2.65"/>
<circle cx="610.6" cy="975.9" r="2.65"/>
<circle cx="616" cy="976.7" r="2.65"/>
<circle cx="623.2" cy="972.4" r="2.65"/>
<circle cx="644.9" cy="944.7" r="2.65"/>
<circle cx="610.6" cy="973" r="2.65"/>
<circle cx="636" cy="953.7" r="2.65"/>
<circle cx="618.9" cy="967.3" r="2.65"/>
<circle cx="609.5" cy="976.4" r="2.65"/>
<circle cx="613.6" cy="964.9" r="2.65"/>
<circle cx="637.2" cy="958.8" r="2.65"/>
<circle cx="614" cy="970.1" r="2.65"/>
<circle cx="648.7" cy="943.8" r="2.65"/>
<circle cx="618.7" cy="968.5" r="2.65"/>
<circle cx="647.2" cy="938.2" r="2.65"/>
<circle cx="601.1" cy="979.7" r="2.65"/>
<circle cx="604.3" cy="985.4" r="2.65"/>
<circle cx="645.9" cy="941.7" r="2.65"/>
<circle cx="627" cy="968.9" r="2.65"/>
<circle cx="602.9" cy="977.7" r="2.65"/>
<circle cx="602.1" cy="984.2" r="2.65"/>
<circle cx="607.8" cy="975.5" r="2.65"/>
<circle cx="616.2" cy="969.2" r="2.65"/>
<circle cx="622.1" cy="962.6" r="2.65"/>
<circle cx="636.7" cy="951.2" r="2.65"/>
<circle cx="613.5" cy="971" r="2.65"/>
<circle cx="607.7" cy="970.3" r="2.65"/>
<circle cx="610.6" cy="973" r="2.65"/>
<circle cx="621.1" cy="974.7" r="2.65"/>
<circle cx="620.1" cy="969.2" r="2.65"/>
<circle cx="615.2" cy="968.6" r="2.65"/>
<circle cx="617.9" cy="968.6" r="2.65"/>
<circle cx="601.3" cy="983.6" r="2.65"/>
<circle cx="632.8" cy="949.4" r="2.65"/>
<circle cx="650.7" cy="937.9" r="2.65"/>
<circle cx="615.5" cy="966.2" r="2.65"/>
<circle cx="611.2" cy="965.8" r="2.65"/>
<circle cx="635.8" cy="948.3" r="2.65"/>
<circle cx="645.2" cy="938" r="2.65"/>
<circle cx="612.2" cy="971.8" r="2.65"/>
<circle cx="622.2" cy="963.2" r="2.65"/>
<circle cx="620.4" cy="971.5" r="2.65"/>
<circle cx="617.1" cy="971.2" r="2.65"/>
<circle cx="625.8" cy="960.8" r="2.65"/>
<circle cx="620.9" cy="969" r="2.65"/>
<circle cx="624.7" cy="966.5" r="2.65"/>
<circle cx="612.5" cy="981" r="2.65"/>
<circle cx="604.8" cy="976.2" r="2.65"/>
<circle cx="607.8" cy="982.4" r="2.65"/>
<circle cx="630.3" cy="955.9" r="2.65"/>
<circle cx="636.4" cy="948" r="2.65"/>
<circle cx="601.2" cy="978.2" r="2.65"/>
<circle cx="603.3" cy="984.3" r="2.65"/>
<circle cx="621" cy="972.1" r="2.65"/>
<circle cx="630.5" cy="959.3" r="2.65"/>
<circle cx="624.4" cy="961.2" r="2.65"/>
<circle cx="601.2" cy="986.6" r="2.65"/>
<circle cx="618" cy="974.2" r="2.65"/>
<circle cx="613.6" cy="968.7" r="2.65"/>
<circle cx="634.7" cy="955.7" r="2.65"/>
<circle cx="632" cy="961.4" r="2.65"/>
<circle cx="649.6" cy="938.4" r="2.65"/>
<circle cx="649" cy="946.2" r="2.65"/>
<circle cx="640.1" cy="945.7" r="2.65"/>
<circle cx="621.4" cy="961.5" r="2.65"/>
<circle cx="621.6" cy="963.8" r="2.65"/>
<circle cx="645.7" cy="953.3" r="2.65"/>
<circle cx="619.9" cy="967.9" r="2.65"/>
<circle cx="607.1" cy="976.3" r="2.65"/>
<circle cx="626.4" cy="959.5" r="2.65"/>
<circle cx="650.8" cy="944.1" r="2.65"/>
<circle cx="607.8" cy="978.2" r="2.65"/>
<circle cx="635.4" cy="956.4" r="2.65"/>
<circle cx="612.2" cy="981.1" r="2.65"/>
<circle cx="620.5" cy="966" r="2.65"/>
<circle cx="612.4" cy="967" r="2.65"/>
<circle cx="628.5" cy="959.1" r="2.65"/>
<circle cx="632.5" cy="949.4" r="2.65"/>
<circle cx="650.4" cy="938.2" r="2.65"/>
<circle cx="66.3" cy="1198.2" r="2.65"/>
<circle cx="88.5" cy="1211.1" r="2.65"/>
<circle cx="78.7" cy="1395.6" r="2.65"/>
<circle cx="138.4" cy="1287.7" r="2.65"/>
<circle cx="158.1" cy="1284.8" r="2.65"/>
<circle cx="176" cy="1294" r="2.65"/>
<circle cx="188.4" cy="1287.9" r="2.65"/>
<circle cx="202.5" cy="1296.5" r="2.65"/>
<circle cx="184.9" cy="1303.7" r="2.65"/>
<circle cx="198.3" cy="1306.5" r="2.65"/>
<circle cx="178" cy="1308.5" r="2.65"/>
<circle cx="176.7" cy="1311.4" r="2.65"/>
<circle cx="178.7" cy="1311" r="2.65"/>
<circle cx="183.9" cy="1309" r="2.65"/>
<circle cx="182.9" cy="1314.7" r="2.65"/>
<circle cx="197.8" cy="1320.6" r="2.65"/>
<circle cx="190.4" cy="1330.6" r="2.65"/>
<circle cx="130.3" cy="1322.4" r="2.65"/>
<circle cx="157.6" cy="1326.8" r="2.65"/>
<circle cx="143" cy="1333.5" r="2.65"/>
<circle cx="134.3" cy="1342.5" r="2.65"/>
<circle cx="148.9" cy="1346.9" r="2.65"/>
<circle cx="131" cy="1354.9" r="2.65"/>
<circle cx="162.6" cy="1352.4" r="2.65"/>
<circle cx="202.8" cy="1358.5" r="2.65"/>
<circle cx="167.5" cy="1186" r="2.65"/>
<circle cx="176.2" cy="1199.3" r="2.65"/>
<circle cx="163.8" cy="1206.6" r="2.65"/>
<circle cx="199.4" cy="1192.1" r="2.65"/>
<circle cx="203.2" cy="1243.8" r="2.65"/>
<circle cx="192" cy="1264.1" r="2.65"/>
<circle cx="321.7" cy="1129.7" r="2.65"/>
<circle cx="312.2" cy="1132.7" r="2.65"/>
<circle cx="318.2" cy="1153.5" r="2.65"/>
<circle cx="326.9" cy="1157.7" r="2.65"/>
<circle cx="335.3" cy="1157" r="2.65"/>
<circle cx="305.3" cy="1163.7" r="2.65"/>
<circle cx="314" cy="1162" r="2.65"/>
<circle cx="326.4" cy="1165.7" r="2.65"/>
<circle cx="328.8" cy="1166.4" r="2.65"/>
<circle cx="341.7" cy="1164.4" r="2.65"/>
<circle cx="343.7" cy="1168.9" r="2.65"/>
<circle cx="279.7" cy="1170.6" r="2.65"/>
<circle cx="283.4" cy="1178.1" r="2.65"/>
<circle cx="296.6" cy="1174.9" r="2.65"/>
<circle cx="298.3" cy="1174.9" r="2.65"/>
<circle cx="304.5" cy="1174.4" r="2.65"/>
<circle cx="313" cy="1171.9" r="2.65"/>
<circle cx="321.9" cy="1170.6" r="2.65"/>
<circle cx="324.4" cy="1176.8" r="2.65"/>
<circle cx="331.8" cy="1177.3" r="2.65"/>
<circle cx="336.3" cy="1177.3" r="2.65"/>
<circle cx="330.1" cy="1180.6" r="2.65"/>
<circle cx="340" cy="1181.8" r="2.65"/>
<circle cx="316.9" cy="1187.3" r="2.65"/>
<circle cx="248.4" cy="1185.8" r="2.65"/>
<circle cx="269.3" cy="1194.7" r="2.65"/>
<circle cx="275.5" cy="1195.7" r="2.65"/>
<circle cx="301.6" cy="1196" r="2.65"/>
<circle cx="310.2" cy="1193" r="2.65"/>
<circle cx="310.2" cy="1196.7" r="2.65"/>
<circle cx="330.6" cy="1192.5" r="2.65"/>
<circle cx="330.1" cy="1197.2" r="2.65"/>
<circle cx="338.8" cy="1195.5" r="2.65"/>
<circle cx="337.5" cy="1202.4" r="2.65"/>
<circle cx="294.9" cy="1199.9" r="2.65"/>
<circle cx="295.8" cy="1205.4" r="2.65"/>
<circle cx="305.3" cy="1208.6" r="2.65"/>
<circle cx="287.2" cy="1209.9" r="2.65"/>
<circle cx="284.9" cy="1212.8" r="2.65"/>
<circle cx="315.2" cy="1211.6" r="2.65"/>
<circle cx="268.1" cy="1211.6" r="2.65"/>
<circle cx="260.1" cy="1213.1" r="2.65"/>
<circle cx="219.7" cy="1209.9" r="2.65"/>
<circle cx="299.6" cy="1218.3" r="2.65"/>
<circle cx="325.6" cy="1219.3" r="2.65"/>
<circle cx="310.2" cy="1225.7" r="2.65"/>
<circle cx="344.5" cy="1219.8" r="2.65"/>
<circle cx="256.4" cy="1230.9" r="2.65"/>
<circle cx="246" cy="1232.4" r="2.65"/>
<circle cx="246.5" cy="1238.9" r="2.65"/>
<circle cx="248.9" cy="1238.9" r="2.65"/>
<circle cx="287.9" cy="1233.9" r="2.65"/>
<circle cx="286.7" cy="1244.3" r="2.65"/>
<circle cx="289.6" cy="1244.3" r="2.65"/>
<circle cx="253.2" cy="1245.6" r="2.65"/>
<circle cx="276.7" cy="1254.3" r="2.65"/>
<circle cx="208.7" cy="1258" r="2.65"/>
<circle cx="226.4" cy="1266.7" r="2.65"/>
<circle cx="236.5" cy="1266.2" r="2.65"/>
<circle cx="235.8" cy="1274.4" r="2.65"/>
<circle cx="296.6" cy="1266.2" r="2.65"/>
<circle cx="314" cy="1267.2" r="2.65"/>
<circle cx="344.5" cy="1242.6" r="2.65"/>
<circle cx="261.8" cy="1280.5" r="2.65"/>
<circle cx="264.3" cy="1292.2" r="2.65"/>
<circle cx="245.2" cy="1291.4" r="2.65"/>
<circle cx="230.1" cy="1287.2" r="2.65"/>
<circle cx="222.9" cy="1295.7" r="2.65"/>
<circle cx="216.7" cy="1306.1" r="2.65"/>
<circle cx="229.1" cy="1352" r="2.65"/>
<circle cx="245.7" cy="1321" r="2.65"/>
<circle cx="323.6" cy="1301.9" r="2.65"/>
<circle cx="340.4" cy="1400.1" r="2.65"/>
<circle cx="458.4" cy="1310.1" r="2.65"/>
<circle cx="366.3" cy="1341.4" r="2.65"/>
<circle cx="392.1" cy="1231.3" r="2.65"/>
<circle cx="379.9" cy="1233.2" r="2.65"/>
<circle cx="371.1" cy="1216.6" r="2.65"/>
<circle cx="370.5" cy="1221.3" r="2.65"/>
<circle cx="379.4" cy="1216" r="2.65"/>
<circle cx="389.4" cy="1215.5" r="2.65"/>
<circle cx="425.7" cy="1199.9" r="2.65"/>
<circle cx="410.7" cy="1187.7" r="2.65"/>
<circle cx="432.9" cy="1178.8" r="2.65"/>
<circle cx="449" cy="1186.6" r="2.65"/>
<circle cx="470.1" cy="1187.2" r="2.65"/>
<circle cx="485.6" cy="1175.5" r="2.65"/>
<circle cx="470.4" cy="1161.9" r="2.65"/>
<circle cx="472.6" cy="1166.6" r="2.65"/>
<circle cx="442.4" cy="1211" r="2.65"/>
<circle cx="478.7" cy="1210.2" r="2.65"/>
<circle cx="454.3" cy="1157.5" r="2.65"/>
<circle cx="357.2" cy="1203.3" r="2.65"/>
<circle cx="362.2" cy="1200.8" r="2.65"/>
<circle cx="379.9" cy="1193.6" r="2.65"/>
<circle cx="384.9" cy="1194.1" r="2.65"/>
<circle cx="390.5" cy="1194.1" r="2.65"/>
<circle cx="400.2" cy="1175.5" r="2.65"/>
<circle cx="400.2" cy="1179.1" r="2.65"/>
<circle cx="406.6" cy="1166.6" r="2.65"/>
<circle cx="411.3" cy="1161.7" r="2.65"/>
<circle cx="421.3" cy="1159.4" r="2.65"/>
<circle cx="400.7" cy="1160.3" r="2.65"/>
<circle cx="354.4" cy="1182.7" r="2.65"/>
<circle cx="356.6" cy="1181.1" r="2.65"/>
<circle cx="358.6" cy="1176.4" r="2.65"/>
<circle cx="363.6" cy="1174.4" r="2.65"/>
<circle cx="367.7" cy="1174.4" r="2.65"/>
<circle cx="391" cy="1051.7" r="2.65"/>
<circle cx="341" cy="1029.4" r="2.65"/>
<circle cx="469.8" cy="1027.1" r="2.65"/>
<circle cx="468.8" cy="1028.6" r="2.65"/>
<circle cx="487.9" cy="1027.1" r="2.65"/>
<circle cx="486.4" cy="1038.8" r="2.65"/>
<circle cx="506.3" cy="1030.9" r="2.65"/>
<circle cx="453.4" cy="1052.5" r="2.65"/>
<circle cx="458.4" cy="1059.9" r="2.65"/>
<circle cx="452.2" cy="1066.1" r="2.65"/>
<circle cx="411.3" cy="1073.1" r="2.65"/>
<circle cx="432.3" cy="1074.8" r="2.65"/>
<circle cx="393.4" cy="1081.2" r="2.65"/>
<circle cx="383.5" cy="1088.7" r="2.65"/>
<circle cx="420.7" cy="1086.7" r="2.65"/>
<circle cx="426.4" cy="1087.2" r="2.65"/>
<circle cx="430.1" cy="1084.7" r="2.65"/>
<circle cx="413.2" cy="1091.7" r="2.65"/>
<circle cx="394.6" cy="1096.6" r="2.65"/>
<circle cx="399.1" cy="1095.4" r="2.65"/>
<circle cx="384" cy="1100.8" r="2.65"/>
<circle cx="403.3" cy="1108.3" r="2.65"/>
<circle cx="382.2" cy="1115.7" r="2.65"/>
<circle cx="392.1" cy="1117.7" r="2.65"/>
<circle cx="397.1" cy="1114.7" r="2.65"/>
<circle cx="361.1" cy="1132.1" r="2.65"/>
<circle cx="364.9" cy="1136.3" r="2.65"/>
<circle cx="378" cy="1135.8" r="2.65"/>
<circle cx="384" cy="1135.8" r="2.65"/>
<circle cx="352.4" cy="1142.5" r="2.65"/>
<circle cx="495.6" cy="1045" r="2.65"/>
<circle cx="498.1" cy="1126.4" r="2.65"/>
<circle cx="497.6" cy="1137.1" r="2.65"/>
<circle cx="461.6" cy="1123.2" r="2.65"/>
<circle cx="470.3" cy="1121.4" r="2.65"/>
<circle cx="460.4" cy="1143.8" r="2.65"/>
<circle cx="479" cy="1147.5" r="2.65"/>
<circle cx="472.8" cy="1150" r="2.65"/>
<circle cx="449.2" cy="1142.5" r="2.65"/>
<circle cx="447.5" cy="1145" r="2.65"/>
<circle cx="444.3" cy="1127.6" r="2.65"/>
<circle cx="445.5" cy="1131.4" r="2.65"/>
<circle cx="444.3" cy="1135.8" r="2.65"/>
<circle cx="454.9" cy="1125.2" r="2.65"/>
<circle cx="481" cy="1116.5" r="2.65"/>
<circle cx="474" cy="1112.8" r="2.65"/>
<circle cx="503.1" cy="1103.3" r="2.65"/>
<circle cx="507.5" cy="1112.8" r="2.65"/>
<circle cx="510" cy="1110.8" r="2.65"/>
<circle cx="508.8" cy="1085" r="2.65"/>
<circle cx="487.7" cy="1081.2" r="2.65"/>
<circle cx="487.7" cy="1086.7" r="2.65"/>
<circle cx="493.9" cy="1089.2" r="2.65"/>
<circle cx="423.2" cy="1145.8" r="2.65"/>
<circle cx="412" cy="1142.5" r="2.65"/>
<circle cx="410.8" cy="1148.7" r="2.65"/>
<circle cx="377.3" cy="1163.6" r="2.65"/>
<circle cx="528.6" cy="955.5" r="2.65"/>
<circle cx="563.9" cy="957.8" r="2.65"/>
<circle cx="591.4" cy="952.9" r="2.65"/>
<circle cx="551.5" cy="975.2" r="2.65"/>
<circle cx="547.3" cy="982.4" r="2.65"/>
<circle cx="558.4" cy="983.6" r="2.65"/>
<circle cx="540.3" cy="988.6" r="2.65"/>
<circle cx="629.9" cy="974.2" r="2.65"/>
<circle cx="623.2" cy="994.6" r="2.65"/>
<circle cx="609.3" cy="1000.8" r="2.65"/>
<circle cx="608" cy="1004" r="2.65"/>
<circle cx="599.4" cy="1002.8" r="2.65"/>
<circle cx="600.1" cy="996" r="2.65"/>
<circle cx="604.3" cy="1013.9" r="2.65"/>
<circle cx="594.4" cy="1016.4" r="2.65"/>
<circle cx="594.4" cy="1018.9" r="2.65"/>
<circle cx="586.7" cy="1031.3" r="2.65"/>
<circle cx="576.3" cy="1035.8" r="2.65"/>
<circle cx="598.6" cy="1041.5" r="2.65"/>
<circle cx="616.2" cy="1045.4" r="2.65"/>
<circle cx="623.2" cy="1057.3" r="2.65"/>
<circle cx="516.7" cy="1007.7" r="2.65"/>
<circle cx="523.2" cy="1007" r="2.65"/>
<circle cx="533.6" cy="1002.8" r="2.65"/>
<circle cx="562.1" cy="1032.5" r="2.65"/>
<circle cx="563.4" cy="1041.2" r="2.65"/>
<circle cx="567.6" cy="1041.7" r="2.65"/>
<circle cx="554.7" cy="1040" r="2.65"/>
<circle cx="571.6" cy="1051.1" r="2.65"/>
<circle cx="561.7" cy="1043.7" r="2.65"/>
<circle cx="549" cy="1051.1" r="2.65"/>
<circle cx="541.1" cy="1044.9" r="2.65"/>
<circle cx="533.6" cy="1047.4" r="2.65"/>
<circle cx="536.1" cy="1053.6" r="2.65"/>
<circle cx="524.9" cy="1048.7" r="2.65"/>
<circle cx="569.1" cy="1057.8" r="2.65"/>
<circle cx="593.3" cy="1059.6" r="2.65"/>
<circle cx="592.9" cy="1077.1" r="2.65"/>
<circle cx="591.4" cy="1080.4" r="2.65"/>
<circle cx="589.9" cy="1088.8" r="2.65"/>
<circle cx="563.6" cy="1076.2" r="2.65"/>
<circle cx="557.2" cy="1075.4" r="2.65"/>
<circle cx="517" cy="1110.1" r="2.65"/>
<circle cx="526.7" cy="1116.1" r="2.65"/>
<circle cx="555.2" cy="1134.2" r="2.65"/>
<circle cx="538.6" cy="1139.2" r="2.65"/>
<circle cx="615" cy="1118.8" r="2.65"/>
<circle cx="616.2" cy="1200.2" r="2.65"/>
<circle cx="607.8" cy="1202.7" r="2.65"/>
<circle cx="542.3" cy="1215.6" r="2.65"/>
<circle cx="553.5" cy="1062.3" r="2.65"/>
<circle cx="527.4" cy="1052.3" r="2.65"/>
<circle cx="546" cy="1072.7" r="2.65"/>
<circle cx="532.9" cy="1076.2" r="2.65"/>
<circle cx="527.4" cy="1079.6" r="2.65"/>
<circle cx="536.1" cy="1085.1" r="2.65"/>
<circle cx="546.5" cy="1089.1" r="2.65"/>
<circle cx="520" cy="1067.2" r="2.65"/>
<circle cx="517.5" cy="1083.3" r="2.65"/>
<circle cx="533.1" cy="1095.8" r="2.65"/>
<circle cx="541.1" cy="1098.7" r="2.65"/>
<circle cx="653.2" cy="936.5" r="2.65"/>
</g>
<g font-size="8.5" text-anchor="middle" fill="#000">
<text x="58.4" y="1193">DNK-P10</text>
<text x="97.3" y="1222.5">IRL-P10</text>
<text x="159.1" y="1180.3">IRL-P03</text>
<text x="153.6" y="1197.5">HRV-P05</text>
<text x="155.4" y="1217.8">DNK-P03</text>
<text x="208.5" y="1187.1">MLT-P08</text>
<text x="330" y="1125.1">DNK-P07</text>
<text x="302.8" y="1144.2">LUX-P02</text>
<text x="350.1" y="1024.3">LUX-P14</text>
<text x="399.7" y="1046.5">LUX-P13</text>
<text x="520.1" y="967">BEL-P14</text>
<text x="607.3" y="1039.8">RUS-P17</text>
<text x="644.8" y="1053.9">SVN-P15</text>
<text x="601.8" y="1072.5">RUS-P21</text>
<text x="567.1" y="1086.1">CAN-P22</text>
<text x="598.6" y="1099.8">HRV-P18</text>
<text x="532.9" y="1110.2">RUS-P07</text>
<text x="519" y="1127.3">BEL-P22</text>
<text x="563.6" y="1128.8">CAN-P02</text>
<text x="606.1" y="1130.3">RUS-P14</text>
<text x="546.8" y="1150.4">CYP-P04</text>
<text x="477" y="1132.4">CAN-P13</text>
<text x="453.7" y="1154.8">CYP-P11</text>
<text x="501.4" y="1155.2">CAN-P04</text>
<text x="495.8" y="1168.2">CAN-P08</text>
<text x="457.1" y="1181.6">CYP-P07</text>
<text x="502" y="1186.9">BEL-P16</text>
<text x="416.8" y="1195">BEL-P13</text>
<text x="461.2" y="1198.6">CYP-P06</text>
<text x="380.8" y="1210.2">BEL-P09</text>
<text x="624.9" y="1195.3">CYP-P10</text>
<text x="550.5" y="1210.7">HRV-P01</text>
<text x="598.9" y="1214.4">CYP-P09</text>
<text x="453.4" y="1222.1">CAN-P06</text>
<text x="495.1" y="1221.6">CYP-P03</text>
<text x="411" y="1226.6">CAN-P09</text>
<text x="371.1" y="1244.6">BEL-P07</text>
<text x="322.1" y="1262.2">LUX-P17</text>
<text x="466.2" y="1304.8">CAN-P03</text>
<text x="314.7" y="1312.8">CAN-P10</text>
<text x="237.8" y="1332.2">BEL-P10</text>
<text x="237.8" y="1347.1">LUX-P07</text>
<text x="357.2" y="1352.8">LUX-P15</text>
<text x="194.4" y="1369.9">MLT-P09</text>
<text x="348.9" y="1395">LUX-P09</text>
</g>
<rect x="37.4" y="860.2" width="644.6" height="614.1" fill="none" stroke="#555" stroke-width="1.5"/>
<g stroke="#333" stroke-width="1.1">
<line x1="40.9" y1="1474.3" x2="40.9" y2="1477.6"/>
<line x1="195.3" y1="1474.3" x2="195.3" y2="1477.6"/>
<line x1="349.6" y1="1474.3" x2="349.6" y2="1477.6"/>
<line x1="504.0" y1="1474.3" x2="504.0" y2="1477.6"/>
<line x1="658.4" y1="1474.3" x2="658.4" y2="1477.6"/>
<line x1="34.1" y1="981.9" x2="37.4" y2="981.9"/>
<line x1="34.1" y1="1137.2" x2="37.4" y2="1137.2"/>
<line x1="34.1" y1="1292.5" x2="37.4" y2="1292.5"/>
<line x1="34.1" y1="1447.8" x2="37.4" y2="1447.8"/>
</g>
<g font-size="10.4" fill="#4d4d4d">
<text x="40.9" y="1487.2" text-anchor="middle">0.00</text>
<text x="195.3" y="1487.2" text-anchor="middle">0.25</text>
<text x="349.6" y="1487.2" text-anchor="middle">0.50</text>
<text x="504.0" y="1487.2" text-anchor="middle">0.75</text>
<text x="658.4" y="1487.2" text-anchor="middle">1.00</text>
<text x="30.799999999999997" y="985.5" text-anchor="end">0.9</text>
<text x="30.799999999999997" y="1140.8" text-anchor="end">0.6</text>
<text x="30.799999999999997" y="1296.1" text-anchor="end">0.3</text>
<text x="30.799999999999997" y="1451.3999999999999" text-anchor="end">0.0</text>
</g>
<text x="359.7" y="1501.1" font-size="13.15" text-anchor="middle">between effects multiplier</text>
<text transform="translate(11.7,1166.6) rotate(-90)" font-size="13.35" text-anchor="middle" textLength="95.2" lengthAdjust="spacingAndGlyphs">Leontief multiplier</text>
<text x="652.9" y="1445.4" font-size="13.3" text-anchor="end"><tspan font-style="italic">R</tspan><tspan dy="-5" font-size="9.5" dx="1">2</tspan><tspan dy="5"> = 0.864</tspan></text>
<text x="654.9" y="1462.6" font-size="13.3" text-anchor="end">No. outliers: 45/920</text>
</g></svg>
</body></html>
